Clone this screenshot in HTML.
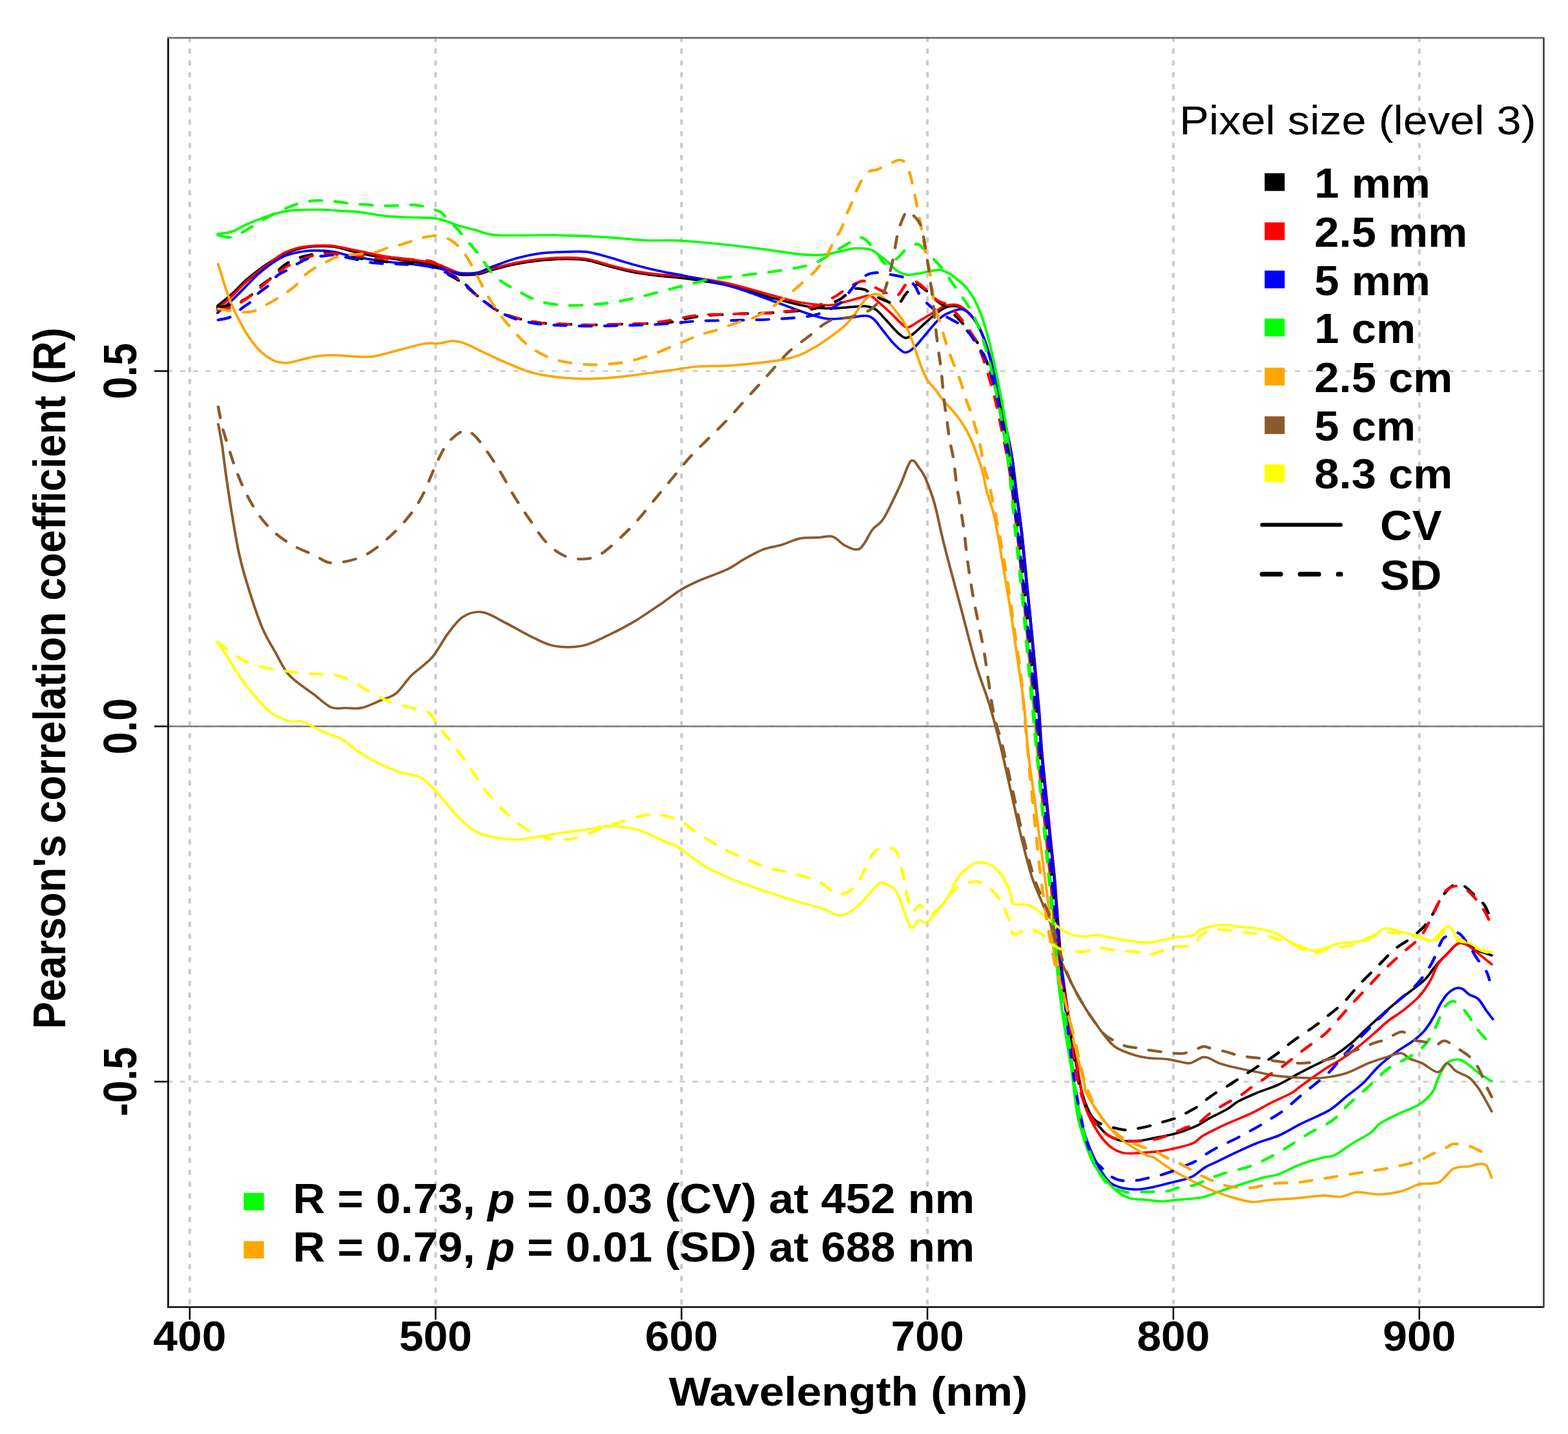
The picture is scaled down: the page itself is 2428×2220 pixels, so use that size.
<!DOCTYPE html><html><head><meta charset="utf-8"><title>Pearson correlation vs wavelength</title>
<style>html,body{margin:0;padding:0;background:#fff;overflow:hidden;}svg{display:block;}text{font-family:"Liberation Sans",Arial,Helvetica,sans-serif;}</style></head><body>
<svg width="2428" height="2220" viewBox="0 0 2428 2220">
<rect x="0" y="0" width="2428" height="2220" fill="#fff"/>
<g stroke="#cbcbcb" stroke-width="4.2" stroke-dasharray="4.6 13.67" stroke-linecap="round" fill="none"><line x1="293.8" y1="58.6" x2="293.8" y2="2023.6"/><line x1="674.5" y1="58.6" x2="674.5" y2="2023.6"/><line x1="1055.3" y1="58.6" x2="1055.3" y2="2023.6"/><line x1="1436.1" y1="58.6" x2="1436.1" y2="2023.6"/><line x1="1816.9" y1="58.6" x2="1816.9" y2="2023.6"/><line x1="2197.8" y1="58.6" x2="2197.8" y2="2023.6"/></g>
<g stroke="#d0d0d0" stroke-width="3.2" stroke-dasharray="5.4 14.44" stroke-linecap="round" fill="none"><line x1="260.4" y1="574.5" x2="2390.0" y2="574.5"/><line x1="260.4" y1="1124.5" x2="2390.0" y2="1124.5"/><line x1="260.4" y1="1674.5" x2="2390.0" y2="1674.5"/></g>
<line x1="260.4" y1="1124.5" x2="2390.0" y2="1124.5" stroke="#7a7a7a" stroke-width="2.4"/>
<g transform="scale(1.085,1)">
<g fill="none" stroke-width="3.7" stroke-linecap="round" stroke-linejoin="round"><path d="M310.5 473.5 C314.0 470.4 325.0 461.1 331.5 454.6 C338.1 448.2 343.7 440.8 349.8 434.8 C355.9 428.9 362.0 423.9 368.1 418.9 C374.2 413.9 380.3 409.1 386.4 405.0 C392.4 400.9 398.5 397.2 404.6 394.1 C410.7 391.0 416.9 388.2 422.9 386.2 C429.0 384.2 435.1 383.0 441.2 382.2 C447.3 381.4 453.4 381.2 459.5 381.2 C465.6 381.2 471.7 381.2 477.8 382.2 C483.9 383.2 490.0 385.5 496.1 387.1 C502.2 388.8 508.3 390.6 514.4 392.1 C520.5 393.6 526.5 395.0 532.6 396.1 C538.7 397.2 544.9 398.0 551.0 399.0 C557.1 400.0 563.1 401.0 569.2 402.0 C575.3 403.0 581.5 404.0 587.6 405.0 C593.7 406.0 599.3 406.8 605.8 408.0 C612.3 409.2 618.7 409.2 626.7 412.0 C634.8 414.8 645.1 422.5 654.2 424.6 C663.3 426.7 673.9 425.6 681.6 424.6 C689.2 423.6 690.8 421.4 699.9 418.7 C709.0 416.0 724.2 411.3 736.4 408.7 C748.6 406.1 760.8 404.1 773.0 402.8 C785.2 401.5 798.9 400.8 809.6 400.8 C820.3 400.8 827.9 401.2 837.1 402.8 C846.2 404.4 853.8 407.7 864.4 410.7 C875.1 413.7 888.8 418.0 901.0 420.6 C913.2 423.2 924.9 424.9 937.6 426.6 C950.3 428.3 961.3 428.7 977.0 431.0 C992.7 433.3 1016.6 437.1 1031.8 440.3 C1047.0 443.5 1056.2 446.6 1068.4 450.2 C1080.6 453.8 1092.8 458.5 1105.0 462.1 C1117.2 465.8 1132.2 469.8 1141.6 472.1 C1151.0 474.4 1153.3 475.1 1161.3 476.0 C1169.3 476.9 1179.9 477.6 1189.6 477.4 C1199.3 477.2 1211.8 475.4 1219.5 474.9 C1227.3 474.3 1231.0 473.4 1236.0 474.1 C1241.0 474.8 1244.8 475.5 1249.6 479.0 C1254.3 482.5 1259.5 489.6 1264.5 495.3 C1269.5 501.0 1275.0 508.6 1279.5 513.2 C1284.0 517.8 1287.8 522.1 1291.5 522.9 C1295.3 523.7 1297.8 521.4 1302.0 518.1 C1306.3 514.9 1312.0 508.3 1317.1 503.4 C1322.1 498.5 1327.1 493.2 1332.1 488.8 C1337.1 484.4 1342.5 479.5 1347.1 477.0 C1351.7 474.5 1355.0 474.0 1359.4 474.0 C1363.9 474.0 1368.6 473.4 1373.9 477.0 C1379.2 480.6 1386.0 487.6 1391.1 495.5 C1396.1 503.4 1400.2 512.6 1404.3 524.3 C1408.4 536.0 1412.0 550.1 1415.8 565.6 C1419.6 581.1 1423.7 599.9 1427.2 617.1 C1430.7 634.3 1433.8 653.2 1436.7 668.7 C1439.5 684.2 1442.0 694.7 1444.2 709.9 C1446.5 725.1 1447.7 741.2 1450.0 760.0 C1452.2 778.8 1455.0 798.3 1457.5 822.5 C1460.0 846.7 1462.6 877.5 1465.2 905.0 C1467.7 932.5 1470.4 959.9 1472.7 987.4 C1475.1 1014.9 1477.6 1049.5 1479.3 1069.9 C1481.0 1090.3 1481.8 1094.7 1482.9 1110.0 C1484.1 1125.3 1484.3 1139.5 1486.1 1161.9 C1487.9 1184.3 1491.4 1220.2 1493.6 1244.3 C1495.9 1268.3 1497.5 1285.6 1499.4 1306.2 C1501.3 1326.8 1502.9 1339.0 1505.1 1368.0 C1507.3 1397.0 1510.7 1454.8 1512.6 1480.0 C1514.6 1505.2 1514.6 1502.2 1516.7 1518.9 C1518.8 1535.6 1522.6 1561.5 1525.3 1580.0 C1528.1 1598.5 1530.1 1611.7 1533.2 1630.0 C1536.3 1648.3 1540.5 1675.3 1543.8 1690.0 C1547.1 1704.7 1549.8 1710.3 1553.0 1718.0 C1556.2 1725.7 1558.9 1729.8 1563.0 1735.9 C1567.2 1742.0 1572.5 1749.8 1577.9 1754.5 C1583.2 1759.2 1589.3 1762.3 1595.0 1764.4 C1600.7 1766.5 1606.5 1766.7 1612.2 1766.9 C1617.9 1767.1 1623.6 1766.4 1629.3 1765.6 C1635.0 1764.8 1639.8 1763.3 1646.5 1761.9 C1653.1 1760.5 1662.6 1758.7 1669.3 1757.0 C1676.0 1755.3 1679.8 1754.5 1686.5 1752.0 C1693.1 1749.5 1702.6 1745.6 1709.3 1742.1 C1716.0 1738.6 1719.5 1735.0 1726.5 1730.9 C1733.4 1726.8 1744.3 1721.6 1751.2 1717.3 C1758.0 1713.0 1760.0 1709.3 1767.3 1705.0 C1774.5 1700.7 1785.1 1695.8 1794.7 1691.5 C1804.3 1687.2 1814.5 1684.3 1824.9 1679.0 C1835.3 1673.7 1846.2 1666.0 1856.9 1659.9 C1867.5 1653.8 1880.8 1646.8 1888.8 1642.5 C1896.9 1638.2 1898.2 1638.4 1904.9 1633.8 C1911.6 1629.2 1920.8 1622.0 1928.8 1614.7 C1936.9 1607.4 1943.6 1599.3 1952.9 1590.0 C1962.2 1580.7 1975.5 1567.5 1984.9 1558.8 C1994.2 1550.1 2000.9 1544.9 2008.9 1537.9 C2016.9 1531.0 2026.8 1523.5 2032.9 1517.1 C2039.0 1510.7 2042.2 1504.3 2045.7 1499.7 C2049.2 1495.1 2050.5 1493.0 2053.7 1489.3 C2056.9 1485.5 2060.9 1481.6 2064.9 1477.2 C2068.9 1472.8 2073.9 1466.0 2077.7 1463.0 C2081.5 1460.0 2084.4 1459.0 2087.6 1459.0 C2090.8 1459.0 2093.2 1461.1 2096.9 1463.3 C2100.6 1465.5 2104.3 1469.3 2109.7 1471.9 C2115.0 1474.5 2125.7 1477.7 2128.9 1478.9" stroke="#000000"/><path d="M310.5 478.4 C314.0 475.0 325.0 464.7 331.5 458.0 C338.1 451.3 343.7 444.2 349.8 438.0 C355.9 431.8 362.0 426.3 368.1 421.0 C374.2 415.7 380.3 410.8 386.4 406.0 C392.4 401.2 398.5 395.7 404.6 392.1 C410.7 388.5 416.9 386.3 422.9 384.5 C429.0 382.7 435.1 381.9 441.2 381.2 C447.3 380.5 453.4 380.2 459.5 380.2 C465.6 380.2 468.6 379.7 477.8 381.2 C486.9 382.7 502.2 386.5 514.4 389.1 C526.6 391.8 538.8 395.0 551.0 397.1 C563.2 399.2 575.4 400.0 587.6 402.0 C599.7 404.0 612.9 405.7 624.1 409.0 C635.2 412.3 644.6 419.7 654.2 422.0 C663.8 424.3 673.9 423.5 681.6 422.6 C689.2 421.7 690.8 419.4 699.9 416.7 C709.0 414.0 724.2 409.3 736.4 406.7 C748.6 404.1 760.8 402.1 773.0 400.8 C785.2 399.5 798.9 398.8 809.6 398.8 C820.3 398.8 827.9 399.2 837.1 400.8 C846.2 402.4 853.8 405.7 864.4 408.7 C875.1 411.7 888.8 416.0 901.0 418.6 C913.2 421.2 924.9 423.0 937.6 424.6 C950.3 426.2 961.3 425.9 977.0 428.0 C992.7 430.1 1016.6 433.8 1031.8 437.0 C1047.0 440.2 1056.2 443.5 1068.4 447.0 C1080.6 450.5 1092.8 454.5 1105.0 458.0 C1117.2 461.5 1128.7 465.6 1141.6 468.0 C1154.4 470.4 1171.5 472.6 1182.0 472.5 C1192.5 472.4 1197.1 469.5 1204.6 467.6 C1212.1 465.7 1220.9 462.7 1227.1 461.1 C1233.3 459.5 1237.0 456.3 1242.0 457.9 C1247.0 459.5 1252.0 466.3 1257.1 470.9 C1262.1 475.5 1267.1 480.4 1272.1 485.5 C1277.1 490.6 1283.1 498.3 1287.1 501.8 C1291.1 505.3 1292.3 507.2 1296.0 506.7 C1299.8 506.1 1304.8 501.5 1309.6 498.5 C1314.3 495.5 1319.5 492.1 1324.5 488.8 C1329.5 485.6 1335.1 481.7 1339.5 479.0 C1344.0 476.3 1346.1 473.7 1351.2 472.8 C1356.3 471.9 1363.5 470.0 1370.1 473.8 C1376.8 477.6 1385.3 487.1 1391.1 495.5 C1396.8 503.9 1400.4 512.6 1404.6 524.3 C1408.8 536.0 1412.4 550.1 1416.2 565.6 C1420.1 581.1 1424.2 599.9 1427.6 617.1 C1431.1 634.3 1434.3 653.2 1437.1 668.7 C1440.0 684.2 1442.5 694.7 1444.7 709.9 C1446.9 725.1 1448.3 741.2 1450.5 760.0 C1452.7 778.8 1455.5 798.3 1458.1 822.5 C1460.6 846.7 1463.2 877.5 1465.7 905.0 C1468.2 932.5 1470.8 959.9 1473.3 987.4 C1475.8 1014.9 1478.9 1049.5 1480.6 1069.9 C1482.4 1090.3 1482.8 1094.7 1483.9 1110.0 C1484.9 1125.3 1485.2 1139.5 1487.0 1161.9 C1488.8 1184.3 1492.4 1220.2 1494.6 1244.3 C1496.8 1268.3 1498.4 1285.6 1500.3 1306.2 C1502.2 1326.8 1503.7 1339.0 1506.0 1368.0 C1508.2 1397.0 1511.8 1454.8 1513.8 1480.0 C1515.8 1505.2 1515.9 1502.2 1518.0 1518.9 C1520.0 1535.6 1523.5 1561.5 1526.3 1580.0 C1529.0 1598.5 1532.0 1613.3 1534.6 1630.0 C1537.2 1646.7 1539.5 1665.9 1541.9 1680.0 C1544.4 1694.1 1545.2 1702.8 1549.3 1714.8 C1553.4 1726.8 1560.7 1742.1 1566.5 1752.0 C1572.2 1761.9 1577.9 1768.9 1583.6 1774.3 C1589.3 1779.7 1595.0 1782.3 1600.7 1784.2 C1606.5 1786.1 1612.2 1785.5 1617.9 1785.5 C1623.6 1785.5 1628.4 1784.8 1635.0 1784.2 C1641.7 1783.6 1650.3 1783.0 1657.9 1781.8 C1665.5 1780.6 1673.1 1778.9 1680.7 1776.8 C1688.4 1774.7 1697.9 1772.3 1703.6 1769.4 C1709.3 1766.5 1710.3 1762.7 1715.0 1759.4 C1719.8 1756.1 1726.1 1752.8 1732.2 1749.5 C1738.2 1746.2 1742.3 1743.9 1751.2 1739.6 C1760.0 1735.3 1775.2 1729.0 1785.5 1723.7 C1795.8 1718.4 1803.4 1713.1 1813.0 1707.8 C1822.6 1702.5 1836.0 1696.5 1843.3 1692.0 C1850.6 1687.5 1849.3 1686.9 1856.9 1681.0 C1864.5 1675.1 1879.5 1663.1 1888.8 1656.4 C1898.2 1649.7 1904.9 1646.5 1912.9 1640.8 C1920.9 1635.1 1928.9 1628.8 1936.9 1622.0 C1944.9 1615.2 1953.5 1607.0 1960.9 1600.0 C1968.4 1593.0 1974.9 1585.7 1981.6 1580.0 C1988.2 1574.3 1993.7 1571.9 2000.9 1565.7 C2008.1 1559.5 2018.2 1550.9 2024.9 1543.1 C2031.6 1535.3 2036.4 1527.2 2040.9 1518.8 C2045.5 1510.4 2048.1 1499.7 2052.1 1492.8 C2056.1 1485.9 2060.4 1482.4 2064.9 1477.2 C2069.4 1472.0 2075.3 1464.2 2079.3 1461.5 C2083.2 1458.8 2085.5 1460.4 2088.5 1461.0 C2091.4 1461.6 2092.8 1462.0 2096.9 1465.0 C2100.9 1468.0 2107.6 1474.3 2112.9 1478.9 C2118.2 1483.5 2126.3 1490.5 2128.9 1492.8" stroke="#FF0000"/><path d="M310.5 484.4 C314.0 481.1 325.0 471.1 331.5 464.5 C338.1 457.9 343.7 451.3 349.8 444.7 C355.9 438.1 362.0 430.8 368.1 424.8 C374.2 418.9 380.3 413.6 386.4 409.0 C392.4 404.4 398.5 400.1 404.6 397.1 C410.7 394.1 416.9 392.6 422.9 391.1 C429.0 389.6 435.1 388.6 441.2 388.1 C447.3 387.6 453.4 387.8 459.5 388.1 C465.6 388.4 471.7 388.9 477.8 390.1 C483.9 391.3 490.0 393.6 496.1 395.1 C502.2 396.6 505.2 397.4 514.4 399.0 C523.5 400.6 538.8 403.3 551.0 405.0 C563.2 406.7 575.4 407.4 587.6 409.0 C599.7 410.6 612.9 412.6 624.1 414.9 C635.2 417.2 644.6 421.8 654.2 423.0 C663.8 424.2 673.9 423.5 681.6 422.0 C689.2 420.5 690.8 417.7 699.9 414.0 C709.0 410.3 724.2 403.7 736.4 400.0 C748.6 396.3 760.8 393.6 773.0 391.9 C785.2 390.2 798.9 390.2 809.6 389.9 C820.3 389.6 827.9 388.8 837.1 389.9 C846.2 391.0 853.8 393.7 864.4 396.8 C875.1 399.9 888.8 405.1 901.0 408.7 C913.2 412.3 924.9 415.6 937.6 418.7 C950.3 421.8 961.3 423.4 977.0 427.0 C992.7 430.6 1016.6 435.8 1031.8 440.0 C1047.0 444.2 1053.1 446.5 1068.4 452.2 C1083.6 457.9 1108.0 468.1 1123.2 474.0 C1138.5 479.9 1150.0 484.6 1159.8 487.9 C1169.6 491.2 1173.3 493.0 1182.0 493.7 C1190.7 494.4 1203.3 492.8 1212.1 492.0 C1220.8 491.2 1228.8 488.5 1234.6 488.8 C1240.3 489.1 1242.3 489.9 1246.5 493.7 C1250.8 497.5 1255.8 505.9 1260.1 511.6 C1264.3 517.3 1268.1 522.9 1272.1 527.8 C1276.1 532.7 1280.6 537.8 1284.1 540.8 C1287.6 543.8 1289.6 546.2 1293.1 545.7 C1296.6 545.2 1301.1 541.4 1305.1 537.6 C1309.1 533.8 1312.5 528.6 1317.1 522.9 C1321.6 517.2 1327.6 508.8 1332.1 503.4 C1336.6 498.0 1340.3 493.6 1344.1 490.4 C1347.8 487.2 1349.9 485.9 1354.8 484.0 C1359.8 482.1 1367.9 477.1 1373.9 479.0 C1380.0 480.9 1386.0 487.9 1391.1 495.5 C1396.1 503.1 1400.2 512.6 1404.3 524.3 C1408.5 536.0 1412.2 550.1 1416.1 565.6 C1420.0 581.1 1424.1 599.9 1427.6 617.1 C1431.2 634.3 1434.5 653.2 1437.3 668.7 C1440.2 684.2 1442.5 694.7 1444.7 709.9 C1446.9 725.1 1448.2 741.2 1450.4 760.0 C1452.6 778.8 1455.5 798.3 1458.1 822.5 C1460.6 846.7 1463.2 877.5 1465.7 905.0 C1468.2 932.5 1470.9 959.9 1473.3 987.4 C1475.7 1014.9 1478.5 1049.5 1480.2 1069.9 C1481.9 1090.3 1482.4 1094.7 1483.4 1110.0 C1484.5 1125.3 1484.8 1139.5 1486.5 1161.9 C1488.3 1184.3 1491.8 1220.2 1494.0 1244.3 C1496.2 1268.3 1497.8 1285.6 1499.7 1306.2 C1501.6 1326.8 1503.3 1339.0 1505.5 1368.0 C1507.7 1397.0 1511.0 1454.8 1512.9 1480.0 C1514.8 1505.2 1515.1 1500.6 1517.1 1518.9 C1519.0 1537.2 1521.9 1564.8 1524.4 1590.0 C1526.9 1615.2 1529.7 1649.2 1532.2 1670.0 C1534.6 1690.8 1537.3 1703.4 1539.2 1715.0 C1541.1 1726.6 1541.0 1729.3 1543.6 1739.6 C1546.2 1749.9 1550.8 1765.4 1555.0 1776.8 C1559.2 1788.2 1564.0 1798.9 1568.8 1807.8 C1573.5 1816.7 1578.3 1824.9 1583.6 1830.1 C1588.9 1835.3 1594.1 1836.9 1600.7 1838.8 C1607.4 1840.7 1616.0 1841.5 1623.6 1841.3 C1631.2 1841.1 1638.8 1839.2 1646.5 1837.6 C1654.1 1835.9 1661.7 1833.5 1669.3 1831.4 C1676.9 1829.3 1686.5 1827.1 1692.2 1825.2 C1697.9 1823.3 1698.8 1823.3 1703.6 1820.2 C1708.4 1817.1 1715.0 1810.3 1720.7 1806.6 C1726.5 1802.9 1731.7 1801.2 1737.9 1797.9 C1744.1 1794.7 1748.6 1791.9 1758.1 1787.1 C1767.5 1782.3 1783.5 1774.1 1794.7 1769.3 C1805.8 1764.5 1814.5 1762.9 1824.9 1758.0 C1835.3 1753.1 1844.9 1746.2 1856.9 1739.7 C1868.9 1733.2 1886.2 1725.8 1896.9 1718.9 C1907.5 1712.0 1912.9 1705.0 1920.9 1698.1 C1928.9 1691.1 1936.9 1685.3 1944.9 1677.2 C1952.9 1669.1 1960.9 1657.5 1968.9 1649.4 C1976.9 1641.3 1984.9 1634.9 1992.9 1628.6 C2000.9 1622.2 2010.2 1616.8 2016.9 1611.3 C2023.5 1605.8 2028.1 1601.6 2032.9 1595.6 C2037.7 1589.5 2042.0 1581.8 2045.7 1575.0 C2049.4 1568.2 2052.1 1560.9 2055.3 1555.0 C2058.5 1549.1 2061.2 1543.9 2064.9 1539.7 C2068.6 1535.5 2074.0 1531.5 2077.7 1530.1 C2081.4 1528.6 2084.1 1529.4 2087.3 1531.0 C2090.5 1532.6 2093.1 1537.1 2096.9 1539.7 C2100.6 1542.3 2105.7 1542.5 2109.7 1546.6 C2113.7 1550.6 2117.5 1558.8 2120.9 1564.0 C2124.4 1569.2 2128.9 1575.5 2130.5 1577.8" stroke="#0000FF"/><path d="M310.5 362.3 C314.0 361.6 325.0 360.7 331.5 358.4 C338.1 356.1 342.2 352.1 349.8 348.5 C357.4 344.9 368.1 340.0 377.2 336.5 C386.4 333.0 397.0 329.5 404.6 327.6 C412.2 325.7 413.8 325.7 422.9 325.2 C432.1 324.7 448.9 324.4 459.5 324.6 C470.2 324.8 477.8 325.9 486.9 326.6 C496.1 327.3 503.7 327.3 514.4 328.6 C525.1 329.9 538.8 333.3 551.0 334.6 C563.2 335.9 575.4 335.9 587.6 336.5 C599.7 337.1 612.9 336.4 624.1 338.5 C635.2 340.6 644.6 346.1 654.2 349.2 C663.8 352.3 672.4 354.6 681.6 357.1 C690.7 359.6 690.7 362.9 709.0 364.1 C727.3 365.3 765.4 363.6 791.3 364.1 C817.2 364.6 843.1 365.8 864.4 367.1 C885.8 368.4 900.6 371.0 919.4 372.0 C938.1 373.0 952.1 371.2 977.0 373.0 C1001.8 374.8 1041.0 379.4 1068.4 382.8 C1095.8 386.2 1123.9 391.8 1141.6 393.7 C1159.3 395.6 1165.3 395.1 1174.6 394.4 C1183.8 393.7 1189.6 391.1 1197.1 389.5 C1204.5 387.9 1212.0 385.2 1219.5 384.6 C1227.0 384.1 1236.3 384.6 1242.0 386.2 C1247.8 387.8 1249.6 390.9 1254.1 394.4 C1258.6 397.9 1264.8 403.3 1269.0 407.4 C1273.3 411.5 1275.3 415.8 1279.5 418.8 C1283.8 421.8 1289.6 424.5 1294.6 425.3 C1299.6 426.1 1304.6 424.5 1309.6 423.7 C1314.6 422.9 1319.5 421.4 1324.5 420.4 C1329.5 419.4 1335.3 417.7 1339.5 417.8 C1343.8 417.9 1346.4 419.1 1350.2 421.0 C1354.1 422.9 1357.7 425.3 1362.6 429.5 C1367.5 433.7 1374.3 438.8 1379.6 446.0 C1385.0 453.2 1390.1 461.5 1394.8 472.8 C1399.6 484.1 1404.0 498.5 1408.1 514.0 C1412.2 529.5 1416.1 548.4 1419.5 565.6 C1423.0 582.8 1425.9 598.2 1429.0 617.1 C1432.2 636.0 1436.0 658.5 1438.5 679.0 C1441.1 699.5 1442.1 716.2 1444.2 740.0 C1446.4 763.8 1449.2 794.5 1451.6 822.0 C1454.1 849.5 1456.5 877.0 1459.0 905.0 C1461.4 933.0 1464.1 962.5 1466.4 990.0 C1468.7 1017.5 1471.0 1048.3 1472.8 1070.0 C1474.7 1091.7 1476.2 1104.7 1477.4 1120.0 C1478.7 1135.3 1478.6 1141.2 1480.4 1161.9 C1482.1 1182.6 1485.4 1216.8 1487.9 1244.3 C1490.5 1271.8 1493.3 1302.7 1495.6 1326.8 C1497.8 1350.9 1499.4 1363.2 1501.3 1388.7 C1503.2 1414.2 1505.2 1456.5 1506.9 1480.0 C1508.6 1503.5 1509.3 1510.3 1511.5 1530.0 C1513.8 1549.7 1517.4 1577.0 1520.4 1598.3 C1523.4 1619.6 1526.6 1636.3 1529.5 1657.8 C1532.4 1679.3 1534.6 1708.4 1537.9 1727.2 C1541.2 1746.0 1545.5 1758.2 1549.3 1770.6 C1553.1 1783.0 1556.0 1792.3 1560.7 1801.6 C1565.5 1810.9 1572.2 1819.2 1577.9 1826.4 C1583.6 1833.6 1589.3 1840.2 1595.0 1845.0 C1600.7 1849.8 1605.5 1852.8 1612.2 1854.9 C1618.8 1857.0 1627.4 1856.6 1635.0 1857.4 C1642.6 1858.2 1650.3 1859.9 1657.9 1859.9 C1665.5 1859.9 1671.2 1858.4 1680.7 1857.4 C1690.3 1856.4 1705.2 1855.8 1715.0 1853.7 C1724.9 1851.6 1731.1 1847.9 1739.8 1844.7 C1748.5 1841.5 1756.6 1838.4 1767.3 1834.8 C1777.9 1831.2 1794.2 1825.7 1803.8 1822.9 C1813.4 1820.1 1816.0 1821.2 1824.9 1817.8 C1833.7 1814.3 1846.2 1806.5 1856.9 1802.2 C1867.5 1797.9 1880.8 1794.1 1888.8 1791.8 C1896.9 1789.5 1898.2 1791.8 1904.9 1788.3 C1911.6 1784.8 1920.3 1776.8 1928.8 1771.0 C1937.4 1765.2 1949.4 1758.8 1956.1 1753.6 C1962.8 1748.4 1962.8 1744.3 1968.9 1739.7 C1975.1 1735.1 1983.6 1730.7 1992.9 1725.8 C2002.2 1720.9 2016.4 1716.0 2024.9 1710.2 C2033.4 1704.4 2039.5 1697.8 2044.1 1691.1 C2048.6 1684.4 2049.4 1676.7 2052.1 1670.3 C2054.7 1663.9 2057.2 1657.5 2060.1 1652.9 C2063.0 1648.3 2065.7 1644.5 2069.7 1642.5 C2073.7 1640.5 2079.6 1639.6 2084.1 1640.8 C2088.7 1642.0 2092.1 1645.7 2096.9 1649.4 C2101.7 1653.2 2107.6 1659.2 2112.9 1663.3 C2118.2 1667.4 2126.3 1672.0 2128.9 1673.8" stroke="#00FF00"/><path d="M311.4 409.0 C312.6 413.3 316.3 426.5 318.7 434.8 C321.1 443.1 323.5 451.3 326.0 458.6 C328.4 465.9 330.6 471.8 333.4 478.4 C336.1 485.0 338.8 491.0 342.5 498.3 C346.1 505.6 350.4 514.5 355.3 522.1 C360.2 529.7 365.9 538.0 371.7 543.9 C377.5 549.8 383.9 554.8 390.0 557.8 C396.1 560.8 402.2 561.8 408.3 561.8 C414.4 561.8 419.6 559.5 426.6 557.8 C433.7 556.1 441.9 553.1 450.4 551.8 C458.9 550.5 468.6 549.8 477.8 549.8 C486.9 549.8 496.1 551.5 505.3 551.8 C514.4 552.1 522.0 553.4 532.6 551.8 C543.3 550.1 557.0 545.2 569.2 541.9 C581.4 538.6 596.2 533.7 605.8 532.0 C615.4 530.3 620.2 532.4 626.7 531.7 C633.3 531.0 638.9 527.8 645.0 527.8 C651.1 527.8 655.7 528.7 663.3 531.7 C670.9 534.7 681.6 541.0 690.7 545.6 C699.8 550.2 707.5 554.5 718.2 559.5 C728.8 564.5 742.5 571.4 754.7 575.4 C766.9 579.4 779.1 581.5 791.3 583.3 C803.5 585.1 815.7 586.0 827.9 586.3 C840.1 586.6 852.2 586.1 864.4 585.3 C876.6 584.5 885.8 583.3 901.0 581.3 C916.3 579.3 940.1 575.7 955.9 573.4 C971.6 571.1 979.7 568.9 995.4 567.5 C1011.1 566.1 1028.8 567.3 1050.1 565.3 C1071.4 563.3 1104.9 559.7 1123.2 555.4 C1141.5 551.1 1149.1 545.5 1159.8 539.5 C1170.5 533.5 1179.8 525.5 1187.3 519.7 C1194.7 514.0 1199.2 510.4 1204.6 505.0 C1210.0 499.6 1214.8 493.6 1219.5 487.1 C1224.3 480.6 1228.8 471.1 1233.1 466.0 C1237.3 460.9 1241.6 457.8 1245.1 456.2 C1248.6 454.6 1250.6 454.6 1254.1 456.2 C1257.6 457.8 1262.3 462.2 1266.1 466.0 C1269.8 469.8 1273.1 474.4 1276.6 479.0 C1280.1 483.6 1283.9 488.3 1287.1 493.7 C1290.3 499.1 1293.5 505.9 1296.0 511.6 C1298.5 517.3 1299.8 521.0 1302.0 527.8 C1304.3 534.6 1307.1 544.5 1309.6 552.2 C1312.1 559.9 1314.6 567.7 1317.1 574.0 C1319.5 580.3 1321.7 585.3 1324.5 590.0 C1327.3 594.7 1330.2 596.8 1334.0 602.0 C1337.8 607.2 1342.6 614.9 1347.4 621.2 C1352.1 627.5 1358.2 633.9 1362.6 639.8 C1367.0 645.6 1370.1 649.8 1373.9 656.3 C1377.7 662.8 1381.9 670.8 1385.3 679.0 C1388.8 687.2 1392.0 697.2 1394.8 705.8 C1397.7 714.4 1400.2 721.5 1402.4 730.5 C1404.6 739.5 1405.3 748.1 1408.1 760.0 C1411.0 771.9 1415.4 781.2 1419.5 801.9 C1423.7 822.6 1429.0 860.2 1432.8 884.3 C1436.6 908.3 1439.2 923.9 1442.4 946.2 C1445.6 968.6 1448.7 994.4 1451.9 1018.4 C1455.1 1042.5 1458.8 1066.6 1461.4 1090.5 C1463.9 1114.4 1464.9 1139.7 1467.1 1161.9 C1469.3 1184.1 1472.1 1203.1 1474.7 1223.7 C1477.2 1244.3 1479.7 1265.0 1482.2 1285.6 C1484.7 1306.2 1487.3 1326.8 1489.9 1347.4 C1492.4 1368.0 1494.9 1387.2 1497.4 1409.3 C1500.0 1431.4 1501.6 1458.4 1505.1 1480.0 C1508.5 1501.6 1513.2 1515.7 1518.0 1538.7 C1522.7 1561.7 1528.7 1594.9 1533.6 1618.1 C1538.6 1641.2 1544.9 1665.6 1547.5 1677.6 C1550.1 1689.6 1546.1 1682.8 1549.3 1690.0 C1552.5 1697.2 1560.7 1711.7 1566.5 1721.0 C1572.2 1730.3 1577.9 1738.6 1583.6 1745.8 C1589.3 1753.0 1595.0 1759.2 1600.7 1764.4 C1606.5 1769.6 1612.2 1772.9 1617.9 1776.8 C1623.6 1780.7 1630.3 1785.5 1635.0 1788.0 C1639.8 1790.5 1642.6 1789.6 1646.5 1791.7 C1650.3 1793.8 1653.1 1796.9 1657.9 1800.4 C1662.6 1803.9 1669.3 1809.1 1675.0 1812.8 C1680.7 1816.5 1686.5 1819.4 1692.2 1822.7 C1697.9 1826.0 1703.6 1829.5 1709.3 1832.6 C1715.0 1835.7 1719.5 1838.2 1726.5 1841.3 C1733.4 1844.4 1741.3 1848.0 1751.2 1851.2 C1761.0 1854.4 1775.2 1859.5 1785.5 1860.6 C1795.8 1861.7 1803.4 1858.4 1813.0 1857.6 C1822.6 1856.8 1836.0 1856.1 1843.3 1855.6 C1850.6 1855.0 1849.3 1855.1 1856.9 1854.3 C1864.5 1853.5 1879.2 1851.1 1888.8 1850.8 C1898.4 1850.5 1906.5 1853.5 1914.5 1852.6 C1922.5 1851.7 1927.8 1846.2 1936.9 1845.6 C1945.9 1845.0 1958.3 1849.4 1968.9 1849.1 C1979.6 1848.8 1991.6 1846.5 2000.9 1843.9 C2010.2 1841.3 2016.1 1835.8 2024.9 1833.5 C2033.7 1831.2 2045.5 1834.0 2053.7 1830.0 C2062.0 1826.0 2067.3 1813.2 2074.5 1809.2 C2081.7 1805.2 2091.0 1806.9 2096.9 1805.7 C2102.7 1804.5 2105.7 1802.5 2109.7 1802.2 C2113.7 1801.9 2117.7 1800.5 2120.9 1804.0 C2124.1 1807.5 2127.6 1819.9 2128.9 1823.1" stroke="#FFA500"/><path d="M311.4 656.7 C312.4 662.2 315.1 676.6 317.0 689.5 C318.8 702.4 320.1 716.8 322.4 734.2 C324.7 751.6 327.5 773.0 330.7 793.9 C333.9 814.8 337.5 839.6 341.7 859.5 C345.8 879.4 349.9 894.3 355.4 913.2 C360.9 932.1 368.2 956.5 374.7 972.9 C381.1 989.3 388.3 1000.6 393.9 1011.7 C399.5 1022.8 403.5 1032.2 408.3 1039.4 C413.1 1046.7 416.3 1049.3 422.9 1055.2 C429.6 1061.1 439.7 1068.4 447.9 1075.0 C456.2 1081.6 464.7 1091.4 472.4 1094.9 C480.0 1098.4 486.7 1095.8 494.0 1096.0 C501.3 1096.2 507.9 1097.9 516.2 1095.9 C524.5 1093.9 535.5 1087.8 543.8 1084.0 C552.0 1080.2 558.3 1079.5 565.6 1073.1 C572.9 1066.6 579.0 1054.5 587.6 1045.3 C596.1 1036.1 608.2 1028.3 616.7 1017.7 C625.2 1007.1 631.3 992.4 638.6 981.9 C645.9 971.4 652.4 960.7 660.6 955.0 C668.9 949.3 678.0 946.1 688.1 947.6 C698.2 949.1 709.6 957.8 721.1 964.0 C732.6 970.2 745.4 978.8 756.9 984.8 C768.3 990.8 777.5 997.3 789.9 999.8 C802.2 1002.3 818.0 1002.6 831.1 999.8 C844.2 997.0 855.7 989.6 868.5 983.1 C881.2 976.6 894.5 969.1 907.5 960.6 C920.5 952.1 935.6 940.4 946.5 932.4 C957.3 924.4 963.8 918.2 972.4 912.6 C981.1 907.0 987.7 903.7 998.5 898.5 C1009.4 893.3 1026.7 887.2 1037.5 881.6 C1048.3 876.0 1054.8 869.9 1063.5 864.7 C1072.2 859.5 1080.8 854.0 1089.5 850.5 C1098.2 847.0 1106.8 846.3 1115.5 843.5 C1124.1 840.7 1132.8 835.5 1141.5 833.6 C1150.1 831.7 1159.7 832.7 1167.5 832.2 C1175.3 831.7 1181.8 828.7 1188.3 830.8 C1194.8 832.9 1200.0 841.8 1206.5 844.9 C1212.9 848.0 1220.8 853.3 1227.3 849.1 C1233.8 844.9 1239.8 827.2 1245.4 819.5 C1251.1 811.8 1254.6 813.9 1261.1 802.6 C1267.6 791.3 1278.0 766.6 1284.5 751.8 C1291.0 737.0 1295.3 717.9 1300.1 713.7 C1304.9 709.5 1309.6 721.9 1313.1 726.4 C1316.5 730.9 1317.4 731.6 1320.8 740.5 C1324.3 749.4 1329.4 762.9 1333.8 780.0 C1338.2 797.1 1341.3 817.1 1347.4 843.1 C1353.4 869.1 1362.5 905.0 1370.1 935.9 C1377.7 966.8 1385.9 1002.9 1392.9 1028.7 C1399.9 1054.5 1406.3 1070.0 1412.0 1090.5 C1417.7 1111.0 1422.1 1129.3 1427.2 1151.5 C1432.3 1173.7 1437.3 1199.6 1442.4 1223.7 C1447.5 1247.8 1452.5 1273.6 1457.5 1295.9 C1462.6 1318.2 1467.6 1340.5 1472.7 1357.7 C1477.8 1374.9 1483.5 1387.0 1487.9 1399.0 C1492.4 1411.0 1495.5 1416.5 1499.4 1429.9 C1503.2 1443.3 1506.2 1463.7 1511.2 1479.2 C1516.3 1494.7 1523.4 1509.7 1529.5 1522.9 C1535.6 1536.1 1542.4 1548.7 1547.8 1558.6 C1553.3 1568.5 1557.5 1574.8 1562.4 1582.4 C1567.3 1590.0 1571.9 1597.6 1577.1 1604.2 C1582.2 1610.8 1586.2 1617.1 1593.5 1622.1 C1600.9 1627.1 1613.3 1631.4 1620.9 1634.0 C1628.5 1636.6 1631.6 1636.9 1639.3 1637.9 C1646.9 1638.9 1657.5 1638.6 1666.6 1639.9 C1675.8 1641.2 1688.0 1645.2 1694.1 1645.9 C1700.2 1646.6 1699.6 1645.4 1703.2 1643.9 C1706.9 1642.4 1712.4 1637.9 1716.0 1636.9 C1719.7 1635.9 1721.2 1636.4 1725.2 1637.9 C1729.1 1639.4 1732.8 1643.2 1739.8 1645.9 C1746.8 1648.6 1758.1 1651.5 1767.3 1653.8 C1776.4 1656.1 1785.5 1657.8 1794.7 1659.8 C1803.8 1661.8 1811.8 1664.2 1822.1 1665.7 C1832.5 1667.2 1845.7 1668.0 1856.9 1668.5 C1868.0 1669.0 1878.2 1669.7 1888.8 1668.5 C1899.5 1667.3 1910.2 1665.3 1920.9 1661.6 C1931.6 1657.8 1943.6 1650.0 1952.9 1646.0 C1962.2 1642.0 1969.1 1639.9 1976.9 1637.3 C1984.6 1634.7 1993.4 1630.0 1999.3 1630.3 C2005.1 1630.6 2007.0 1636.4 2012.1 1639.0 C2017.1 1641.6 2023.0 1642.5 2029.7 1646.0 C2036.3 1649.5 2046.2 1659.9 2052.1 1659.9 C2057.9 1659.9 2060.6 1646.3 2064.9 1646.0 C2069.2 1645.7 2072.4 1654.3 2077.7 1658.1 C2083.0 1661.8 2091.5 1664.2 2096.9 1668.5 C2102.2 1672.8 2105.9 1678.7 2109.7 1684.2 C2113.4 1689.7 2116.1 1695.4 2119.3 1701.5 C2122.5 1707.6 2127.3 1717.4 2128.9 1720.6" stroke="#8B5A2B"/><path d="M311.4 995.7 C313.3 998.6 319.0 1007.4 322.4 1013.0 C325.7 1018.6 327.0 1021.7 331.5 1029.4 C336.1 1037.1 343.7 1050.3 349.8 1059.2 C355.9 1068.1 362.0 1075.7 368.1 1083.0 C374.2 1090.3 378.7 1097.3 386.4 1102.9 C394.0 1108.5 406.2 1114.3 413.8 1116.7 C421.4 1119.1 424.2 1114.8 432.1 1117.5 C439.9 1120.2 451.5 1128.2 460.8 1132.7 C470.2 1137.2 480.1 1139.6 488.3 1144.6 C496.5 1149.6 502.0 1156.5 510.2 1162.5 C518.4 1168.5 527.6 1175.0 537.6 1180.4 C547.6 1185.9 560.4 1191.5 570.5 1195.2 C580.6 1198.9 590.6 1199.2 598.0 1202.7 C605.3 1206.2 608.1 1209.4 614.5 1216.1 C620.9 1222.8 629.1 1234.0 636.4 1242.9 C643.7 1251.8 650.1 1261.7 658.3 1269.6 C666.6 1277.5 673.8 1285.5 685.7 1290.5 C697.6 1295.5 716.9 1298.4 729.7 1299.4 C742.5 1300.4 750.2 1298.1 762.6 1296.4 C774.9 1294.7 790.0 1291.2 803.7 1289.0 C817.4 1286.8 833.5 1284.7 844.9 1283.0 C856.3 1281.3 860.8 1278.1 872.3 1278.6 C883.7 1279.1 899.7 1281.5 913.5 1286.0 C927.2 1290.5 945.5 1301.2 954.6 1305.4 C963.6 1309.7 958.5 1305.2 967.7 1311.5 C976.9 1317.8 996.1 1334.7 1009.8 1343.3 C1023.5 1351.9 1035.7 1356.8 1050.0 1363.1 C1064.4 1369.4 1080.5 1375.4 1095.8 1381.0 C1111.0 1386.6 1128.4 1392.5 1141.5 1396.8 C1154.6 1401.1 1165.2 1403.4 1174.4 1406.7 C1183.5 1410.0 1189.6 1416.0 1196.3 1416.7 C1203.0 1417.4 1208.6 1414.7 1214.7 1410.7 C1220.8 1406.7 1226.8 1399.5 1232.9 1392.9 C1239.0 1386.3 1246.6 1375.3 1251.2 1371.0 C1255.7 1366.7 1255.8 1365.8 1260.4 1367.1 C1264.9 1368.4 1273.7 1372.1 1278.6 1379.0 C1283.5 1385.9 1285.9 1399.1 1289.6 1408.7 C1293.2 1418.3 1296.9 1433.8 1300.6 1436.5 C1304.2 1439.2 1307.9 1425.9 1311.5 1424.6 C1315.2 1423.3 1318.1 1431.1 1322.5 1428.6 C1326.9 1426.0 1332.7 1415.9 1337.8 1409.3 C1342.9 1402.7 1348.2 1397.0 1353.0 1388.7 C1357.8 1380.5 1361.6 1367.4 1366.4 1359.8 C1371.1 1352.2 1376.5 1347.4 1381.6 1343.3 C1386.6 1339.2 1391.4 1335.7 1396.8 1335.0 C1402.2 1334.3 1408.4 1336.1 1413.8 1339.2 C1419.2 1342.3 1424.6 1347.1 1429.0 1353.6 C1433.5 1360.1 1437.6 1370.8 1440.5 1378.4 C1443.3 1386.0 1442.7 1395.4 1446.2 1399.0 C1449.7 1402.6 1457.0 1399.3 1461.4 1400.0 C1465.8 1400.7 1468.0 1400.2 1472.7 1403.1 C1477.5 1406.0 1483.8 1412.3 1489.9 1417.5 C1495.9 1422.7 1502.5 1429.2 1508.8 1434.0 C1515.2 1438.8 1521.5 1443.8 1527.8 1446.4 C1534.2 1449.0 1540.5 1449.3 1546.9 1449.5 C1553.3 1449.7 1559.8 1447.2 1566.1 1447.5 C1572.3 1447.8 1576.7 1449.9 1584.3 1451.4 C1592.0 1452.9 1602.6 1455.1 1611.8 1456.4 C1621.0 1457.7 1631.6 1459.6 1639.3 1459.4 C1646.9 1459.2 1651.4 1456.7 1657.5 1455.4 C1663.6 1454.1 1668.5 1452.6 1675.9 1451.4 C1683.2 1450.2 1695.3 1450.5 1701.4 1448.5 C1707.5 1446.5 1707.5 1442.0 1712.4 1439.5 C1717.2 1437.0 1725.2 1434.9 1730.7 1433.6 C1736.2 1432.3 1739.2 1431.4 1745.3 1431.6 C1751.4 1431.8 1759.1 1433.6 1767.3 1434.6 C1775.5 1435.6 1785.5 1435.7 1794.7 1437.5 C1803.8 1439.3 1814.4 1442.1 1822.1 1445.5 C1829.8 1448.9 1835.1 1454.8 1840.9 1458.1 C1846.7 1461.3 1851.5 1462.7 1856.9 1465.0 C1862.2 1467.3 1867.6 1471.3 1872.9 1471.9 C1878.2 1472.5 1882.2 1470.5 1888.8 1468.5 C1895.5 1466.5 1904.9 1461.5 1912.9 1459.8 C1920.9 1458.1 1928.9 1460.1 1936.9 1458.1 C1944.9 1456.1 1954.3 1451.1 1960.9 1447.6 C1967.6 1444.1 1971.5 1438.3 1976.9 1437.2 C1982.2 1436.1 1986.2 1439.0 1992.9 1440.7 C1999.6 1442.4 2011.0 1445.9 2016.9 1447.6 C2022.7 1449.3 2023.6 1449.6 2028.1 1451.1 C2032.6 1452.5 2039.5 1457.4 2044.1 1456.3 C2048.6 1455.2 2051.6 1448.0 2055.3 1444.2 C2059.0 1440.5 2063.3 1434.1 2066.5 1433.8 C2069.7 1433.5 2072.1 1438.7 2074.5 1442.4 C2076.9 1446.2 2077.2 1453.4 2080.9 1456.3 C2084.7 1459.2 2091.5 1457.5 2096.9 1459.8 C2102.2 1462.1 2107.6 1467.9 2112.9 1470.2 C2118.2 1472.5 2126.3 1473.1 2128.9 1473.7" stroke="#FFFF00"/></g>
<g fill="none" stroke-width="4.2" stroke-linecap="round" stroke-linejoin="round" stroke-dasharray="17.4 18.8"><path d="M310.5 476.4 C313.6 475.7 323.4 473.6 329.0 472.0 C334.7 470.4 339.4 469.1 344.3 466.5 C349.3 463.9 354.3 460.6 358.9 456.6 C363.5 452.6 367.1 447.0 371.7 442.7 C376.3 438.4 381.5 435.4 386.4 430.8 C391.2 426.2 396.4 419.2 401.0 414.9 C405.6 410.6 409.6 407.6 413.8 405.0 C418.1 402.4 422.1 400.6 426.6 399.0 C431.2 397.4 435.7 396.4 441.2 395.1 C446.7 393.8 453.4 391.4 459.5 391.1 C465.6 390.8 471.7 392.1 477.8 393.1 C483.9 394.1 487.0 395.5 496.1 397.1 C505.3 398.8 520.4 401.4 532.6 403.0 C544.8 404.6 557.0 406.0 569.2 407.0 C581.4 408.0 596.7 407.7 605.8 409.0 C614.9 410.3 618.0 411.9 624.1 414.9 C630.2 417.9 637.4 423.6 642.4 426.8 C647.4 430.0 647.7 428.8 654.2 434.0 C660.7 439.2 672.4 450.6 681.6 458.3 C690.7 466.0 699.9 474.6 709.0 480.2 C718.2 485.8 725.7 488.8 736.4 492.1 C747.1 495.4 760.8 498.4 773.0 500.0 C785.2 501.6 797.4 501.5 809.6 502.0 C821.8 502.5 834.0 503.0 846.2 503.0 C858.4 503.0 870.6 502.3 882.8 502.0 C895.0 501.7 907.2 501.5 919.4 501.0 C931.5 500.5 943.2 500.8 955.9 499.0 C968.5 497.2 979.7 492.2 995.4 490.0 C1011.1 487.8 1031.9 487.0 1050.1 486.0 C1068.4 485.0 1086.5 485.3 1105.0 484.0 C1123.5 482.7 1145.9 481.3 1161.3 478.0 C1176.6 474.7 1187.8 469.4 1197.1 464.4 C1206.3 459.4 1210.6 450.8 1216.6 448.1 C1222.6 445.4 1228.3 446.8 1233.1 448.1 C1237.8 449.5 1240.1 453.4 1245.1 456.2 C1250.0 459.0 1256.7 462.6 1262.7 465.0 C1268.7 467.4 1276.0 472.6 1281.1 470.9 C1286.2 469.2 1288.8 459.8 1293.1 454.6 C1297.3 449.5 1301.8 440.8 1306.5 440.0 C1311.3 439.2 1316.6 445.5 1321.6 449.7 C1326.5 453.9 1330.9 459.9 1336.4 465.0 C1342.0 470.1 1348.7 474.2 1354.8 480.0 C1361.0 485.8 1367.1 492.5 1373.3 500.0 C1379.4 507.5 1385.9 515.0 1391.7 525.0 C1397.5 535.0 1402.9 545.0 1408.3 560.0 C1413.7 575.0 1419.7 596.7 1424.0 615.0 C1428.3 633.3 1431.0 652.5 1434.1 670.0 C1437.2 687.5 1439.9 701.7 1442.4 720.0 C1444.9 738.3 1446.5 758.3 1448.8 780.0 C1451.2 801.7 1453.8 825.0 1456.2 850.0 C1458.7 875.0 1461.1 903.3 1463.6 930.0 C1466.1 956.7 1468.7 985.0 1471.0 1010.0 C1473.3 1035.0 1475.6 1060.0 1477.4 1080.0 C1479.3 1100.0 1480.5 1110.0 1482.0 1130.0 C1483.6 1150.0 1484.8 1176.7 1486.6 1200.0 C1488.5 1223.3 1490.9 1246.7 1493.1 1270.0 C1495.2 1293.3 1497.4 1316.7 1499.5 1340.0 C1501.7 1363.3 1503.8 1386.7 1506.0 1410.0 C1508.1 1433.3 1510.4 1460.0 1512.4 1480.0 C1514.4 1500.0 1515.7 1511.7 1518.0 1530.0 C1520.3 1548.3 1523.7 1571.7 1526.3 1590.0 C1528.9 1608.3 1530.7 1622.5 1533.6 1640.0 C1536.6 1657.5 1539.8 1680.3 1543.8 1695.0 C1547.8 1709.7 1553.0 1720.5 1557.6 1728.0 C1562.2 1735.5 1566.1 1737.0 1571.4 1740.0 C1576.7 1743.0 1583.3 1744.2 1589.3 1745.8 C1595.3 1747.4 1601.8 1749.3 1607.6 1749.5 C1613.3 1749.7 1617.5 1748.2 1623.6 1747.0 C1629.7 1745.8 1638.2 1743.8 1644.1 1742.1 C1650.0 1740.4 1653.3 1739.0 1659.0 1737.1 C1664.7 1735.2 1672.9 1733.2 1678.4 1730.9 C1684.0 1728.6 1686.8 1726.6 1692.2 1723.5 C1697.5 1720.4 1705.4 1716.0 1710.5 1712.3 C1715.7 1708.6 1718.5 1704.9 1723.0 1701.2 C1727.6 1697.5 1732.6 1693.6 1737.9 1690.0 C1743.1 1686.4 1749.0 1683.3 1754.5 1679.6 C1760.0 1675.9 1765.7 1671.3 1770.9 1667.7 C1776.1 1664.1 1780.3 1661.4 1785.5 1657.8 C1790.7 1654.2 1796.9 1649.5 1802.0 1645.9 C1807.2 1642.3 1811.7 1639.7 1816.6 1636.0 C1821.5 1632.3 1826.4 1628.1 1831.2 1624.0 C1836.1 1619.9 1838.2 1617.2 1845.7 1611.3 C1853.2 1605.4 1868.9 1594.3 1876.1 1588.7 C1883.3 1583.1 1882.2 1583.7 1888.8 1577.8 C1895.5 1571.9 1907.6 1562.5 1916.1 1553.5 C1924.7 1544.5 1931.8 1533.5 1940.1 1524.0 C1948.4 1514.5 1957.5 1505.3 1965.7 1496.3 C1974.0 1487.3 1982.2 1477.2 1989.7 1470.2 C1997.1 1463.2 2003.6 1460.4 2010.5 1454.6 C2017.5 1448.8 2025.7 1441.9 2031.3 1435.5 C2036.9 1429.1 2039.8 1424.0 2044.1 1416.4 C2048.4 1408.8 2052.3 1397.5 2057.1 1390.0 C2062.0 1382.5 2067.6 1374.4 2072.9 1371.3 C2078.2 1368.2 2082.8 1367.8 2088.9 1371.3 C2095.1 1374.8 2104.6 1386.9 2109.7 1392.1 C2114.7 1397.3 2116.1 1396.7 2119.3 1402.5 C2122.5 1408.3 2127.3 1422.8 2128.9 1426.8" stroke="#000000"/><path d="M310.5 480.0 C313.6 479.3 323.2 478.2 329.0 476.0 C334.9 473.8 339.1 471.6 345.6 467.0 C352.1 462.4 359.8 456.1 368.1 448.7 C376.4 441.3 388.2 429.2 395.5 422.9 C402.8 416.6 405.9 414.6 412.0 411.0 C418.1 407.4 424.1 404.0 432.1 401.0 C440.0 398.0 448.9 394.3 459.5 393.1 C470.2 391.9 483.7 393.0 495.9 394.0 C508.0 395.0 520.4 397.8 532.6 399.0 C544.9 400.2 557.0 400.3 569.2 401.0 C581.4 401.7 597.3 402.0 605.8 403.0 C614.3 404.0 614.4 403.7 620.5 407.0 C626.6 410.3 636.8 418.6 642.4 422.9 C648.0 427.1 647.7 426.6 654.2 432.5 C660.7 438.4 672.4 450.4 681.6 458.3 C690.7 466.2 699.9 474.6 709.0 480.2 C718.2 485.8 725.7 488.8 736.4 492.1 C747.1 495.4 760.8 498.4 773.0 500.0 C785.2 501.6 797.4 501.5 809.6 502.0 C821.8 502.5 834.0 503.0 846.2 503.0 C858.4 503.0 870.6 502.3 882.8 502.0 C895.0 501.7 907.2 502.0 919.4 501.0 C931.5 500.0 943.2 498.1 955.9 496.0 C968.5 493.9 979.7 489.8 995.4 488.1 C1011.1 486.4 1031.9 486.7 1050.1 486.0 C1068.4 485.3 1086.5 485.8 1105.0 484.0 C1123.5 482.2 1146.9 479.1 1161.3 475.0 C1175.6 470.9 1183.1 464.2 1191.1 459.5 C1199.0 454.8 1202.5 450.6 1209.0 446.5 C1215.5 442.4 1224.8 436.2 1230.0 435.1 C1235.3 434.0 1235.9 437.5 1240.6 440.0 C1245.2 442.5 1251.6 447.0 1258.1 450.0 C1264.6 453.0 1273.7 459.6 1279.5 457.9 C1285.4 456.2 1288.8 443.8 1293.1 440.0 C1297.3 436.2 1300.3 433.8 1305.1 435.1 C1309.8 436.5 1316.3 443.2 1321.6 448.1 C1326.8 453.0 1331.0 460.1 1336.6 464.4 C1342.1 468.7 1348.3 468.1 1354.8 474.0 C1361.4 479.9 1369.5 490.5 1375.9 499.6 C1382.2 508.7 1388.1 518.4 1392.9 528.5 C1397.7 538.6 1400.2 545.6 1404.6 560.0 C1409.0 574.4 1415.1 596.7 1419.4 615.0 C1423.7 633.3 1427.0 652.5 1430.4 670.0 C1433.8 687.5 1436.9 701.7 1439.6 720.0 C1442.4 738.3 1444.5 758.3 1447.0 780.0 C1449.5 801.7 1451.9 825.0 1454.4 850.0 C1456.8 875.0 1459.3 903.3 1461.8 930.0 C1464.2 956.7 1466.8 985.0 1469.1 1010.0 C1471.4 1035.0 1473.7 1060.0 1475.6 1080.0 C1477.4 1100.0 1478.6 1110.0 1480.2 1130.0 C1481.7 1150.0 1482.9 1176.7 1484.8 1200.0 C1486.6 1223.3 1489.1 1246.7 1491.2 1270.0 C1493.4 1293.3 1495.5 1316.7 1497.7 1340.0 C1499.8 1363.3 1501.8 1386.7 1504.1 1410.0 C1506.5 1433.3 1509.4 1460.0 1511.5 1480.0 C1513.7 1500.0 1514.7 1511.7 1517.1 1530.0 C1519.4 1548.3 1522.7 1571.7 1525.3 1590.0 C1528.0 1608.3 1530.0 1623.3 1532.7 1640.0 C1535.5 1656.7 1537.8 1675.0 1541.9 1690.0 C1546.1 1705.0 1552.7 1720.3 1557.6 1730.0 C1562.5 1739.7 1566.8 1743.0 1571.4 1748.0 C1576.0 1753.0 1579.1 1757.0 1585.3 1760.0 C1591.4 1763.0 1599.7 1765.0 1608.3 1766.0 C1616.9 1767.0 1628.6 1766.8 1636.9 1766.0 C1645.2 1765.2 1651.9 1762.9 1658.1 1761.0 C1664.2 1759.1 1668.2 1757.0 1673.9 1754.5 C1679.6 1752.0 1686.3 1748.3 1692.2 1745.8 C1698.1 1743.3 1704.0 1742.9 1709.3 1739.6 C1714.6 1736.3 1719.4 1729.9 1724.1 1726.0 C1728.9 1722.1 1732.8 1719.4 1737.9 1716.0 C1742.9 1712.6 1749.0 1708.8 1754.5 1705.4 C1760.0 1702.0 1765.7 1699.1 1770.9 1695.5 C1776.1 1691.9 1780.3 1687.6 1785.5 1683.6 C1790.7 1679.6 1797.2 1675.3 1802.0 1671.7 C1806.9 1668.1 1810.2 1665.0 1814.7 1661.7 C1819.3 1658.4 1822.1 1657.6 1829.4 1651.8 C1836.7 1646.0 1848.6 1635.1 1858.5 1626.9 C1868.4 1618.7 1881.9 1608.7 1888.8 1602.6 C1895.8 1596.5 1894.2 1597.4 1900.1 1590.4 C1906.0 1583.4 1916.1 1570.1 1924.1 1560.5 C1932.1 1550.9 1939.8 1542.2 1948.1 1532.7 C1956.4 1523.2 1965.2 1512.5 1973.7 1503.2 C1982.3 1494.0 1990.5 1485.9 1999.3 1477.2 C2008.1 1468.5 2019.3 1460.4 2026.5 1451.1 C2033.7 1441.8 2036.9 1432.9 2042.5 1421.6 C2048.1 1410.3 2054.6 1391.7 2060.1 1383.4 C2065.6 1375.1 2070.0 1372.9 2075.6 1372.0 C2081.2 1371.1 2087.0 1372.5 2093.7 1378.2 C2100.5 1383.9 2110.3 1396.7 2116.1 1406.0 C2122.0 1415.3 2126.8 1429.2 2128.9 1433.8" stroke="#FF0000"/><path d="M311.4 495.3 C314.5 494.5 323.9 493.5 329.7 490.3 C335.5 487.1 341.3 480.4 346.2 476.4 C351.0 472.4 355.2 470.1 358.9 466.5 C362.5 462.9 363.8 458.9 368.1 454.6 C372.4 450.3 380.0 445.3 384.5 440.7 C389.1 436.1 390.9 430.8 395.5 426.8 C400.1 422.8 406.8 420.2 412.0 416.9 C417.2 413.6 421.5 410.0 426.6 407.0 C431.8 404.0 437.0 400.8 443.0 399.0 C449.1 397.2 457.3 396.8 463.1 396.1 C468.9 395.5 470.8 394.3 477.8 395.1 C484.8 395.9 496.1 399.0 505.3 401.0 C514.4 403.0 522.0 405.7 532.6 407.0 C543.3 408.3 557.0 408.3 569.2 409.0 C581.4 409.7 596.7 409.7 605.8 411.0 C614.9 412.3 618.0 414.6 624.1 416.9 C630.2 419.2 636.6 421.8 642.4 424.8 C648.2 427.8 652.4 429.2 658.9 434.8 C665.4 440.4 673.2 450.7 681.6 458.3 C689.9 465.9 699.9 474.2 709.0 480.2 C718.2 486.1 725.7 490.4 736.4 494.0 C747.1 497.6 760.8 500.3 773.0 502.0 C785.2 503.7 797.4 503.5 809.6 504.0 C821.8 504.5 834.0 505.0 846.2 505.0 C858.4 505.0 870.6 504.3 882.8 504.0 C895.0 503.7 907.2 503.5 919.4 503.0 C931.5 502.5 943.2 502.0 955.9 501.0 C968.5 500.0 979.7 497.9 995.4 497.0 C1011.1 496.1 1031.9 496.4 1050.1 495.9 C1068.4 495.4 1086.5 495.3 1105.0 494.0 C1123.5 492.7 1145.9 491.9 1161.3 488.0 C1176.6 484.1 1188.1 477.5 1197.1 470.9 C1206.0 464.2 1210.8 453.5 1215.0 448.1 C1219.3 442.7 1218.8 442.1 1222.6 438.3 C1226.3 434.5 1232.4 428.0 1237.6 425.3 C1242.9 422.6 1248.4 422.1 1254.1 422.1 C1259.8 422.1 1265.8 424.0 1272.1 425.3 C1278.3 426.6 1286.0 427.5 1291.5 430.2 C1297.0 432.9 1301.6 437.3 1305.1 441.6 C1308.6 445.9 1308.8 450.8 1312.5 456.2 C1316.3 461.6 1321.3 468.5 1327.6 474.1 C1333.8 479.7 1342.8 485.1 1350.2 490.0 C1357.6 494.9 1366.5 499.3 1372.1 503.7 C1377.6 508.1 1379.6 511.0 1383.4 516.1 C1387.2 521.2 1391.4 528.8 1394.8 534.6 C1398.3 540.4 1401.0 543.5 1404.3 551.1 C1407.6 558.7 1411.3 567.7 1414.7 580.0 C1418.2 592.3 1421.7 608.3 1424.9 625.0 C1428.1 641.7 1431.2 662.5 1434.1 680.0 C1437.0 697.5 1439.9 711.7 1442.4 730.0 C1444.9 748.3 1446.5 768.3 1448.8 790.0 C1451.2 811.7 1453.8 835.0 1456.2 860.0 C1458.7 885.0 1461.1 913.3 1463.6 940.0 C1466.1 966.7 1468.7 995.0 1471.0 1020.0 C1473.3 1045.0 1475.6 1070.0 1477.4 1090.0 C1479.3 1110.0 1480.3 1120.0 1482.0 1140.0 C1483.7 1160.0 1485.6 1186.7 1487.6 1210.0 C1489.6 1233.3 1491.9 1256.7 1494.0 1280.0 C1496.2 1303.3 1498.3 1326.7 1500.5 1350.0 C1502.6 1373.3 1504.6 1396.7 1506.9 1420.0 C1509.2 1443.3 1512.0 1466.7 1514.3 1490.0 C1516.6 1513.3 1518.4 1536.7 1520.7 1560.0 C1523.0 1583.3 1525.3 1606.7 1528.1 1630.0 C1530.9 1653.3 1533.6 1677.5 1537.3 1700.0 C1541.0 1722.5 1546.2 1749.2 1550.2 1765.0 C1554.2 1780.8 1558.0 1788.3 1561.3 1795.0 C1564.6 1801.7 1565.8 1800.9 1569.9 1805.3 C1574.0 1809.7 1580.8 1817.7 1585.9 1821.4 C1591.0 1825.1 1595.0 1826.6 1600.7 1827.6 C1606.5 1828.6 1614.1 1828.2 1620.2 1827.6 C1626.3 1827.0 1631.2 1825.4 1637.3 1824.0 C1643.4 1822.6 1650.7 1820.9 1656.8 1819.0 C1662.9 1817.1 1668.4 1815.1 1673.9 1812.8 C1679.4 1810.5 1684.5 1807.8 1689.9 1805.3 C1695.2 1802.8 1700.4 1801.2 1705.9 1797.9 C1711.4 1794.6 1717.9 1789.0 1723.0 1785.5 C1728.2 1782.0 1732.1 1779.5 1736.8 1776.8 C1741.5 1774.1 1745.5 1772.4 1751.2 1769.4 C1756.8 1766.4 1764.5 1762.4 1770.5 1759.0 C1776.5 1755.6 1781.9 1752.2 1787.1 1749.0 C1792.3 1745.8 1796.9 1743.2 1801.8 1740.0 C1806.8 1736.8 1811.4 1733.7 1816.6 1730.0 C1821.8 1726.3 1825.9 1724.2 1833.2 1718.0 C1840.4 1711.8 1852.9 1699.3 1860.1 1692.8 C1867.3 1686.3 1870.0 1684.5 1876.1 1679.0 C1882.3 1673.5 1890.0 1667.2 1896.9 1659.9 C1903.7 1652.6 1909.8 1643.7 1917.1 1635.0 C1924.3 1626.3 1931.4 1617.6 1940.1 1607.8 C1948.7 1598.0 1959.9 1585.7 1968.9 1576.1 C1978.0 1566.5 1985.7 1558.8 1994.5 1550.1 C2003.3 1541.4 2013.7 1533.5 2021.7 1524.0 C2029.7 1514.5 2036.9 1503.2 2042.5 1492.8 C2048.1 1482.4 2052.1 1468.5 2055.3 1461.5 C2058.5 1454.5 2057.5 1454.0 2061.8 1451.1 C2066.0 1448.2 2075.1 1441.9 2080.9 1444.2 C2086.8 1446.5 2092.3 1458.3 2096.9 1465.0 C2101.4 1471.7 2104.1 1477.7 2108.1 1484.1 C2112.1 1490.5 2118.0 1497.7 2120.9 1503.2 C2123.9 1508.7 2124.9 1514.8 2125.7 1517.1" stroke="#0000FF"/><path d="M311.4 364.3 C314.5 364.8 323.6 368.3 329.7 367.3 C335.8 366.3 342.1 361.7 347.9 358.4 C353.7 355.1 358.0 351.6 364.4 347.5 C370.8 343.4 378.4 338.1 386.4 333.6 C394.3 329.1 404.7 323.9 412.0 320.7 C419.3 317.4 424.4 315.8 430.2 314.1 C436.0 312.5 440.6 311.4 446.7 310.8 C452.8 310.2 460.7 310.5 466.8 310.8 C472.9 311.1 477.2 311.9 483.3 312.7 C489.4 313.5 497.0 315.0 503.4 315.7 C509.8 316.4 515.6 316.3 521.7 316.7 C527.8 317.1 534.2 318.0 540.0 318.3 C545.8 318.6 550.3 318.8 556.4 318.7 C562.5 318.6 570.5 317.9 576.6 317.7 C582.7 317.5 586.9 316.6 593.0 317.3 C599.1 318.0 608.2 320.3 613.1 321.7 C618.0 323.1 619.6 324.5 622.3 325.6 C625.1 326.8 626.9 326.3 629.6 328.6 C632.3 330.9 634.7 335.0 638.7 339.5 C642.7 344.0 649.2 350.5 653.4 355.4 C657.5 360.3 659.5 363.8 663.6 369.0 C667.7 374.2 673.7 381.3 678.0 386.9 C682.2 392.5 684.1 395.9 688.9 402.8 C693.8 409.8 700.5 421.7 707.2 428.6 C713.9 435.5 722.7 440.1 729.1 444.4 C735.5 448.7 738.9 450.8 745.6 454.4 C752.3 458.0 760.3 463.3 769.4 466.3 C778.5 469.3 789.2 471.2 800.5 472.2 C811.7 473.2 824.9 472.8 837.1 472.2 C849.2 471.6 861.5 470.3 873.6 468.3 C885.8 466.3 898.0 463.3 910.1 460.3 C922.3 457.3 936.1 453.4 946.7 450.4 C957.4 447.4 966.1 444.7 974.2 442.5 C982.3 440.3 988.8 438.7 995.4 437.0 C1002.0 435.3 1002.9 434.2 1013.5 432.4 C1024.2 430.6 1045.5 428.2 1059.3 426.4 C1073.0 424.6 1083.7 423.3 1095.9 421.5 C1108.0 419.7 1122.1 417.6 1132.4 415.5 C1142.8 413.4 1151.0 411.4 1158.1 409.0 C1165.1 406.6 1169.6 403.9 1174.6 400.9 C1179.6 397.9 1182.9 394.6 1188.1 391.1 C1193.4 387.6 1200.6 383.2 1206.1 379.7 C1211.6 376.2 1217.1 371.9 1221.1 370.0 C1225.2 368.1 1227.4 367.2 1230.4 368.0 C1233.4 368.8 1235.5 370.9 1239.1 374.9 C1242.6 378.9 1247.4 386.3 1251.6 392.0 C1255.9 397.7 1259.9 407.5 1264.5 409.0 C1269.2 410.5 1274.8 404.7 1279.5 400.9 C1284.3 397.1 1288.3 390.0 1293.1 386.2 C1297.8 382.4 1304.2 378.6 1308.0 378.1 C1311.9 377.6 1311.9 378.9 1316.1 383.0 C1320.4 387.1 1328.4 396.5 1333.5 402.5 C1338.7 408.5 1342.3 412.1 1347.1 418.8 C1351.9 425.6 1357.1 435.0 1362.2 443.0 C1367.3 451.0 1373.4 459.7 1377.9 467.0 C1382.3 474.3 1385.1 478.2 1388.9 487.0 C1392.8 495.8 1397.1 507.8 1400.9 520.0 C1404.8 532.2 1408.1 543.3 1412.0 560.0 C1415.8 576.7 1420.3 600.0 1424.0 620.0 C1427.6 640.0 1431.2 660.0 1434.1 680.0 C1437.0 700.0 1439.0 716.3 1441.5 740.0 C1443.9 763.7 1446.2 794.5 1448.8 822.0 C1451.5 849.5 1454.5 877.0 1457.1 905.0 C1459.8 933.0 1462.2 962.5 1464.5 990.0 C1466.8 1017.5 1469.1 1048.3 1471.0 1070.0 C1472.8 1091.7 1474.2 1104.7 1475.6 1120.0 C1477.0 1135.3 1477.4 1141.3 1479.3 1162.0 C1481.1 1182.7 1484.2 1216.5 1486.6 1244.0 C1489.1 1271.5 1491.7 1301.0 1494.0 1327.0 C1496.3 1353.0 1498.2 1374.5 1500.5 1400.0 C1502.8 1425.5 1505.2 1455.8 1507.8 1480.0 C1510.4 1504.2 1513.2 1523.3 1516.1 1545.0 C1519.0 1566.7 1522.4 1587.5 1525.3 1610.0 C1528.3 1632.5 1530.4 1657.5 1533.6 1680.0 C1536.9 1702.5 1540.7 1726.7 1544.7 1745.0 C1548.7 1763.3 1553.1 1777.5 1557.6 1790.0 C1562.1 1802.5 1567.0 1812.2 1571.4 1820.0 C1575.9 1827.8 1579.7 1833.2 1584.3 1837.0 C1588.9 1840.8 1594.4 1841.5 1599.1 1843.0 C1603.7 1844.5 1606.7 1846.0 1612.2 1846.3 C1617.6 1846.6 1625.5 1845.2 1631.6 1845.0 C1637.7 1844.8 1642.9 1845.2 1648.8 1845.0 C1654.7 1844.8 1660.9 1845.0 1667.0 1843.8 C1673.1 1842.6 1679.2 1839.0 1685.3 1837.6 C1691.4 1836.1 1697.9 1836.8 1703.6 1835.1 C1709.3 1833.4 1714.1 1830.1 1719.6 1827.6 C1725.2 1825.1 1731.5 1822.3 1736.8 1820.2 C1742.0 1818.1 1743.0 1817.7 1751.2 1815.2 C1759.3 1812.7 1775.2 1809.0 1785.5 1805.0 C1795.8 1801.0 1804.0 1796.2 1813.0 1791.1 C1822.0 1786.0 1829.8 1780.7 1839.3 1774.4 C1848.7 1768.2 1859.3 1760.2 1869.7 1753.6 C1880.1 1746.9 1892.3 1742.0 1901.7 1734.5 C1911.0 1727.0 1917.2 1717.2 1925.7 1708.5 C1934.3 1699.8 1944.1 1691.1 1952.9 1682.4 C1961.7 1673.7 1971.6 1662.5 1978.5 1656.4 C1985.5 1650.3 1988.9 1649.5 1994.5 1646.0 C2000.1 1642.5 2006.5 1639.4 2012.1 1635.6 C2017.7 1631.8 2023.6 1627.8 2028.1 1623.4 C2032.6 1619.1 2035.8 1615.0 2039.3 1609.5 C2042.7 1604.0 2046.2 1596.3 2048.8 1590.4 C2051.5 1584.5 2052.9 1579.6 2055.3 1574.0 C2057.7 1568.4 2060.1 1561.0 2063.3 1557.0 C2066.5 1553.0 2070.5 1549.5 2074.5 1550.1 C2078.5 1550.7 2083.0 1555.6 2087.3 1560.5 C2091.6 1565.4 2096.4 1573.8 2100.1 1579.6 C2103.8 1585.4 2106.2 1590.3 2109.7 1595.2 C2113.1 1600.1 2117.5 1604.5 2120.9 1609.1 C2124.3 1613.7 2128.4 1620.7 2130.0 1623.0" stroke="#00FF00"/><path d="M311.4 478.0 C314.1 478.5 321.7 480.1 327.2 481.0 C332.7 481.9 338.4 483.2 344.3 483.3 C350.2 483.4 357.1 483.0 362.6 481.4 C368.1 479.8 372.1 476.5 377.2 473.5 C382.4 470.5 388.8 466.6 393.6 463.5 C398.5 460.4 401.9 458.1 406.5 454.6 C411.0 451.1 416.8 447.0 421.1 442.7 C425.4 438.4 427.5 433.4 432.1 428.8 C436.7 424.2 443.4 418.5 448.6 414.9 C453.7 411.3 458.3 409.6 463.1 407.0 C468.0 404.4 472.3 401.0 477.8 399.0 C483.3 397.0 487.0 396.4 496.1 395.1 C505.3 393.8 523.0 393.1 532.7 391.1 C542.5 389.1 548.2 385.2 554.7 383.2 C561.1 381.2 565.7 380.8 571.2 379.2 C576.6 377.6 581.8 375.3 587.6 373.3 C593.3 371.3 599.3 368.7 605.8 367.3 C612.3 365.9 620.2 364.2 626.7 365.1 C633.3 366.1 638.9 368.4 645.0 373.0 C651.1 377.6 657.2 383.6 663.3 392.9 C669.4 402.2 676.1 417.7 681.6 428.6 C687.1 439.5 690.7 448.4 696.2 458.3 C701.7 468.2 708.4 479.2 714.5 488.1 C720.6 497.0 726.1 504.0 732.8 511.9 C739.5 519.8 746.2 528.8 754.7 535.7 C763.3 542.7 773.3 549.1 784.0 553.6 C794.6 558.1 806.8 560.7 818.7 562.5 C830.6 564.3 843.1 564.8 855.3 564.5 C867.5 564.2 879.7 563.0 891.9 560.5 C904.1 558.0 916.3 554.1 928.5 549.6 C940.7 545.1 953.8 538.7 965.0 533.7 C976.1 528.7 985.8 523.6 995.4 519.8 C1005.0 516.0 1015.1 513.5 1022.7 510.8 C1030.3 508.1 1034.8 506.1 1040.9 503.8 C1047.0 501.5 1053.5 498.9 1059.3 496.9 C1065.1 494.9 1069.6 494.7 1075.7 491.9 C1081.8 489.1 1089.1 484.6 1095.9 480.0 C1102.6 475.4 1109.6 469.4 1115.9 464.1 C1122.3 458.8 1128.1 453.9 1134.2 448.3 C1140.3 442.7 1147.6 435.3 1152.5 430.4 C1157.5 425.5 1160.4 423.2 1164.1 418.8 C1167.7 414.4 1171.6 408.7 1174.6 404.1 C1177.6 399.5 1179.3 396.5 1182.0 391.1 C1184.8 385.7 1188.0 377.6 1191.1 371.6 C1194.1 365.6 1197.5 361.2 1200.1 355.3 C1202.7 349.4 1204.2 342.0 1206.5 336.0 C1208.7 330.0 1211.4 325.0 1213.5 319.5 C1215.7 314.0 1216.7 309.6 1219.4 303.0 C1222.0 296.4 1225.8 286.2 1229.3 280.0 C1232.8 273.8 1236.6 268.6 1240.3 265.7 C1243.9 262.8 1247.0 264.3 1251.2 262.7 C1255.5 261.1 1260.7 258.3 1265.9 255.8 C1271.1 253.3 1278.0 248.6 1282.3 247.9 C1286.6 247.2 1288.8 248.2 1291.5 251.8 C1294.3 255.4 1296.4 260.8 1298.8 269.7 C1301.2 278.6 1303.6 292.8 1306.1 305.4 C1308.5 318.0 1311.0 331.2 1313.5 345.1 C1315.9 359.0 1318.4 375.9 1320.7 388.7 C1323.0 401.5 1325.3 409.7 1327.2 422.0 C1329.1 434.3 1330.4 451.6 1332.2 462.5 C1333.9 473.4 1335.6 478.6 1337.8 487.2 C1340.0 495.8 1343.2 506.1 1345.4 514.0 C1347.7 521.9 1348.9 527.4 1351.2 534.6 C1353.4 541.8 1355.5 548.4 1358.7 557.3 C1361.9 566.2 1366.7 577.6 1370.1 588.2 C1373.6 598.9 1377.1 613.0 1379.6 621.2 C1382.2 629.5 1383.4 631.5 1385.3 637.7 C1387.3 643.9 1389.2 651.5 1391.1 658.4 C1393.0 665.3 1395.2 672.1 1396.8 679.0 C1398.4 685.9 1399.0 691.0 1400.6 699.6 C1402.1 708.2 1404.4 721.9 1406.3 730.5 C1408.2 739.1 1408.5 734.1 1412.0 751.1 C1415.5 768.1 1422.8 807.1 1427.2 832.8 C1431.6 858.4 1435.1 881.0 1438.5 905.0 C1442.0 929.0 1444.9 953.1 1448.0 977.1 C1451.2 1001.1 1455.0 1025.5 1457.5 1049.3 C1460.0 1073.1 1461.1 1094.9 1463.2 1120.0 C1465.3 1145.1 1467.7 1173.3 1470.0 1200.0 C1472.4 1226.7 1474.8 1253.3 1477.4 1280.0 C1480.0 1306.7 1482.8 1335.0 1485.7 1360.0 C1488.6 1385.0 1491.7 1408.3 1494.9 1430.0 C1498.2 1451.7 1501.1 1470.8 1505.1 1490.0 C1509.1 1509.2 1513.8 1523.7 1518.9 1545.0 C1524.0 1566.3 1530.6 1596.3 1535.5 1618.0 C1540.4 1639.7 1543.3 1658.0 1548.4 1675.0 C1553.5 1692.0 1560.1 1708.5 1565.9 1720.0 C1571.7 1731.5 1577.7 1737.3 1583.4 1744.0 C1589.1 1750.7 1593.5 1755.3 1600.0 1760.0 C1606.5 1764.7 1613.4 1768.0 1622.1 1772.0 C1630.8 1776.0 1645.3 1780.9 1652.2 1784.2 C1659.1 1787.5 1659.0 1789.2 1663.6 1791.7 C1668.2 1794.2 1674.1 1796.2 1679.6 1799.1 C1685.2 1802.0 1690.9 1805.5 1696.8 1809.0 C1702.7 1812.5 1709.5 1817.1 1715.0 1820.2 C1720.5 1823.3 1723.3 1824.8 1729.9 1827.6 C1736.4 1830.3 1745.2 1834.8 1754.5 1836.7 C1763.7 1838.6 1775.8 1839.4 1785.5 1838.7 C1795.3 1838.0 1803.4 1834.1 1813.0 1832.8 C1822.6 1831.5 1836.0 1831.3 1843.3 1830.8 C1850.6 1830.3 1847.9 1831.3 1856.9 1830.0 C1865.8 1828.7 1883.5 1825.4 1896.9 1823.1 C1910.2 1820.8 1924.9 1818.1 1936.9 1816.1 C1948.9 1814.1 1958.3 1812.9 1968.9 1810.9 C1979.6 1808.9 1991.6 1806.3 2000.9 1804.0 C2010.2 1801.7 2018.2 1799.6 2024.9 1797.0 C2031.6 1794.4 2034.3 1791.8 2040.9 1788.3 C2047.6 1784.8 2059.3 1779.1 2064.9 1776.2 C2070.5 1773.3 2069.1 1771.3 2074.5 1771.0 C2079.8 1770.7 2089.7 1772.1 2096.9 1774.4 C2104.1 1776.7 2112.3 1782.0 2117.7 1784.9 C2123.1 1787.8 2127.1 1790.8 2129.0 1792.0" stroke="#FFA500"/><path d="M311.4 629.8 C312.4 634.8 314.7 649.8 317.0 659.7 C319.2 669.7 322.0 678.6 325.2 689.5 C328.4 700.4 332.0 713.4 336.1 725.3 C340.3 737.2 344.5 749.2 350.0 761.1 C355.5 773.0 362.3 786.5 369.1 796.9 C376.0 807.3 382.9 815.8 391.2 823.7 C399.4 831.7 409.0 838.6 418.6 844.6 C428.2 850.6 439.8 855.0 448.9 859.5 C458.1 864.0 462.6 871.0 473.6 871.5 C484.6 872.0 502.5 868.0 514.9 862.5 C527.3 857.0 536.9 848.6 547.9 838.7 C558.9 828.8 571.8 814.8 580.9 802.9 C590.1 791.0 596.0 781.0 602.9 767.1 C609.7 753.2 616.2 732.7 622.1 719.3 C628.1 705.9 632.2 695.2 638.6 686.5 C645.0 677.8 654.7 669.6 660.6 667.1 C666.6 664.6 669.3 667.4 674.4 671.6 C679.4 675.8 684.5 683.0 690.9 692.5 C697.3 702.0 705.6 715.4 712.9 728.3 C720.2 741.2 727.5 757.1 734.8 770.0 C742.2 782.9 749.5 794.3 756.9 805.8 C764.2 817.2 771.1 829.8 778.9 838.7 C786.7 847.7 794.9 855.0 803.6 859.5 C812.3 864.0 822.4 865.6 831.1 865.5 C839.7 865.4 847.1 863.9 855.5 859.0 C863.9 854.1 872.8 844.9 881.5 836.4 C890.1 827.9 898.8 818.5 907.5 808.2 C916.1 797.9 924.8 785.7 933.5 774.4 C942.1 763.1 950.8 751.8 959.4 740.5 C968.1 729.2 976.9 717.0 985.5 706.7 C994.2 696.4 1002.9 687.9 1011.5 678.5 C1020.2 669.1 1028.8 660.2 1037.5 650.3 C1046.2 640.4 1054.8 629.6 1063.5 619.2 C1072.2 608.9 1081.7 597.6 1089.5 588.2 C1097.3 578.8 1104.1 570.2 1110.3 562.8 C1116.6 555.3 1120.2 550.0 1126.9 543.5 C1133.6 537.0 1145.0 528.5 1150.7 523.7 C1156.4 518.9 1156.9 518.4 1161.1 514.8 C1165.3 511.1 1171.1 505.3 1176.0 501.8 C1181.0 498.3 1184.0 496.0 1190.8 494.0 C1197.5 492.0 1207.7 492.7 1216.6 490.0 C1225.5 487.3 1237.0 483.7 1244.2 478.0 C1251.5 472.3 1256.1 463.5 1259.9 456.0 C1263.7 448.5 1264.8 442.3 1267.3 433.0 C1269.7 423.7 1272.4 411.8 1274.7 400.0 C1277.0 388.2 1278.8 372.3 1281.1 362.0 C1283.4 351.7 1286.2 343.8 1288.5 338.0 C1290.8 332.2 1292.6 328.0 1294.9 327.0 C1297.2 326.0 1299.1 328.2 1302.3 332.0 C1305.5 335.8 1311.1 340.3 1314.3 350.0 C1317.5 359.7 1319.7 377.7 1321.7 390.0 C1323.7 402.3 1324.7 412.3 1326.3 424.0 C1327.8 435.7 1329.6 449.0 1330.9 460.0 C1332.1 471.0 1332.4 477.7 1333.6 490.0 C1334.9 502.3 1336.7 520.7 1338.2 534.0 C1339.8 547.3 1341.3 555.7 1342.9 570.0 C1344.4 584.3 1346.0 607.0 1347.4 620.0 C1348.8 633.0 1349.9 638.2 1351.2 648.0 C1352.4 657.8 1353.3 668.7 1354.9 679.0 C1356.5 689.3 1358.9 697.9 1360.6 709.9 C1362.4 721.9 1363.8 739.2 1365.3 751.1 C1366.9 763.0 1368.4 769.3 1370.1 781.2 C1371.9 793.1 1373.9 807.0 1375.9 822.5 C1377.8 838.0 1379.4 856.8 1381.6 874.0 C1383.8 891.2 1386.6 910.1 1389.1 925.6 C1391.7 941.1 1394.2 953.1 1396.8 966.8 C1399.3 980.5 1402.1 994.2 1404.3 1008.0 C1406.5 1021.8 1408.1 1035.5 1410.0 1049.3 C1412.0 1063.0 1413.9 1078.7 1415.8 1090.5 C1417.7 1102.3 1419.1 1109.8 1421.5 1120.0 C1423.8 1130.2 1426.0 1134.2 1430.0 1151.5 C1433.9 1168.8 1440.1 1199.6 1445.2 1223.7 C1450.2 1247.8 1455.2 1273.6 1460.3 1295.9 C1465.3 1318.2 1470.4 1340.5 1475.5 1357.7 C1480.6 1374.9 1486.3 1387.0 1490.7 1399.0 C1495.1 1411.0 1498.2 1416.5 1502.1 1429.9 C1506.0 1443.3 1509.4 1463.7 1514.0 1479.2 C1518.6 1494.7 1523.9 1509.7 1529.5 1522.9 C1535.1 1536.1 1542.4 1548.7 1547.8 1558.6 C1553.3 1568.5 1557.5 1575.1 1562.4 1582.4 C1567.3 1589.7 1570.3 1596.2 1577.1 1602.2 C1583.8 1608.2 1595.4 1614.8 1602.7 1618.1 C1610.0 1621.4 1613.3 1620.6 1620.9 1622.1 C1628.5 1623.6 1637.7 1625.5 1648.4 1627.0 C1659.1 1628.5 1675.8 1631.2 1685.0 1631.0 C1694.1 1630.8 1697.7 1627.8 1703.2 1626.0 C1708.7 1624.2 1713.3 1620.4 1717.9 1620.1 C1722.5 1619.8 1725.5 1622.7 1730.7 1624.0 C1735.9 1625.3 1742.8 1626.3 1748.9 1628.0 C1755.0 1629.7 1761.2 1632.5 1767.3 1634.0 C1773.4 1635.5 1779.4 1636.1 1785.5 1636.9 C1791.6 1637.7 1797.7 1637.9 1803.8 1638.9 C1809.9 1639.9 1813.3 1641.7 1822.1 1642.9 C1831.0 1644.1 1846.3 1646.1 1856.9 1646.0 C1867.5 1645.9 1877.7 1644.0 1885.7 1642.5 C1893.7 1641.0 1897.7 1639.6 1904.9 1637.3 C1912.1 1635.0 1919.5 1632.4 1928.8 1628.6 C1938.2 1624.8 1952.9 1617.9 1960.9 1614.7 C1968.9 1611.5 1970.2 1612.4 1976.9 1609.5 C1983.5 1606.6 1994.3 1597.4 2000.9 1597.4 C2007.6 1597.4 2011.5 1606.9 2016.9 1609.5 C2022.2 1612.1 2027.6 1611.5 2032.9 1613.0 C2038.2 1614.5 2044.0 1618.5 2048.8 1618.2 C2053.7 1617.9 2056.4 1610.4 2061.8 1611.3 C2067.1 1612.2 2075.1 1619.4 2080.9 1623.4 C2086.8 1627.5 2092.1 1630.7 2096.9 1635.6 C2101.7 1640.5 2105.7 1645.4 2109.7 1652.9 C2113.7 1660.4 2117.7 1673.2 2120.9 1680.7 C2124.1 1688.2 2127.6 1695.2 2128.9 1698.1" stroke="#8B5A2B"/><path d="M310.0 993.8 C314.4 997.3 327.2 1008.7 336.1 1014.7 C345.1 1020.7 352.2 1025.6 363.7 1029.6 C375.1 1033.6 391.1 1036.3 404.9 1038.5 C418.6 1040.7 432.4 1041.5 446.2 1043.0 C459.9 1044.5 473.6 1042.8 487.4 1047.5 C501.1 1052.2 517.2 1064.9 528.7 1071.4 C540.1 1077.9 546.5 1082.3 556.1 1086.3 C565.7 1090.3 577.1 1092.4 586.4 1095.2 C595.6 1098.0 605.2 1098.2 611.7 1103.0 C618.2 1107.8 619.5 1115.4 625.4 1123.8 C631.4 1132.2 640.1 1143.2 647.4 1153.6 C654.7 1164.0 661.5 1174.4 669.3 1186.3 C677.1 1198.2 684.9 1212.6 694.0 1225.0 C703.1 1237.4 713.6 1250.3 724.1 1260.7 C734.7 1271.1 746.1 1281.0 757.1 1287.5 C768.0 1294.0 778.5 1297.9 790.0 1299.4 C801.4 1300.9 815.1 1298.9 825.6 1296.4 C836.1 1293.9 841.7 1289.0 853.1 1284.5 C864.5 1280.0 880.9 1273.6 894.2 1269.6 C907.5 1265.6 920.3 1260.7 932.6 1260.7 C945.0 1260.7 957.9 1264.8 968.3 1269.6 C978.7 1274.4 984.6 1282.4 995.2 1289.7 C1005.8 1297.0 1021.0 1307.2 1031.7 1313.5 C1042.4 1319.8 1048.5 1322.4 1059.2 1327.4 C1069.8 1332.4 1083.6 1339.2 1095.8 1343.3 C1108.0 1347.4 1120.2 1348.6 1132.4 1352.2 C1144.5 1355.8 1158.3 1359.6 1168.9 1365.1 C1179.6 1370.5 1187.8 1383.6 1196.3 1384.9 C1204.8 1386.2 1214.0 1379.0 1220.1 1373.0 C1226.2 1367.0 1228.6 1357.8 1232.9 1349.2 C1237.2 1340.6 1241.1 1327.5 1245.7 1321.4 C1250.3 1315.3 1254.9 1313.2 1260.4 1312.5 C1265.9 1311.8 1274.1 1311.4 1278.6 1317.5 C1283.2 1323.6 1285.0 1337.3 1287.7 1349.2 C1290.5 1361.1 1292.7 1378.7 1295.1 1388.9 C1297.6 1399.2 1299.4 1408.7 1302.4 1410.7 C1305.4 1412.7 1309.2 1400.1 1313.4 1400.8 C1317.5 1401.5 1322.6 1414.3 1327.2 1415.0 C1331.8 1415.7 1336.4 1410.0 1341.0 1405.0 C1345.6 1400.0 1350.6 1390.1 1354.8 1385.0 C1359.1 1379.9 1361.3 1377.4 1366.4 1374.2 C1371.4 1371.0 1379.6 1367.4 1385.3 1366.0 C1391.0 1364.6 1395.8 1364.3 1400.6 1366.0 C1405.3 1367.7 1409.4 1371.8 1413.8 1376.3 C1418.3 1380.8 1423.7 1387.3 1427.2 1392.8 C1430.7 1398.3 1432.2 1403.1 1434.7 1409.3 C1437.3 1415.5 1440.5 1423.7 1442.4 1429.9 C1444.3 1436.1 1443.7 1444.3 1446.2 1446.4 C1448.7 1448.5 1453.4 1443.7 1457.5 1442.3 C1461.6 1440.9 1465.5 1437.1 1470.9 1438.1 C1476.3 1439.1 1484.5 1444.4 1489.9 1448.5 C1495.2 1452.6 1498.4 1459.1 1503.1 1462.9 C1507.9 1466.7 1512.6 1469.4 1518.3 1471.1 C1524.0 1472.8 1532.4 1472.8 1537.3 1473.2 C1542.2 1473.6 1543.0 1474.3 1547.8 1473.3 C1552.6 1472.3 1558.5 1467.6 1566.1 1467.3 C1573.7 1467.0 1584.4 1470.3 1593.5 1471.3 C1602.7 1472.3 1612.7 1472.3 1620.9 1473.3 C1629.1 1474.3 1635.2 1478.0 1642.9 1477.2 C1650.5 1476.4 1660.2 1470.3 1666.6 1468.3 C1673.0 1466.3 1675.2 1466.1 1681.3 1465.3 C1687.4 1464.5 1697.7 1466.3 1703.2 1463.3 C1708.7 1460.3 1709.6 1451.5 1714.2 1447.5 C1718.8 1443.5 1724.9 1440.8 1730.7 1439.5 C1736.5 1438.2 1741.3 1438.8 1748.9 1439.5 C1756.6 1440.2 1767.3 1442.2 1776.4 1443.5 C1785.5 1444.8 1796.2 1445.8 1803.8 1447.5 C1811.4 1449.2 1815.5 1451.1 1822.1 1453.4 C1828.7 1455.7 1834.9 1457.6 1843.3 1461.3 C1851.8 1465.0 1863.7 1474.3 1872.9 1475.4 C1882.1 1476.5 1888.2 1470.2 1898.6 1468.0 C1909.0 1465.8 1923.2 1465.8 1935.5 1462.0 C1947.8 1458.2 1961.6 1447.8 1972.4 1445.0 C1983.1 1442.2 1990.8 1443.8 2000.0 1445.0 C2009.2 1446.2 2020.0 1449.8 2027.6 1452.0 C2035.3 1454.2 2039.9 1460.0 2046.1 1458.0 C2052.2 1456.0 2059.1 1441.3 2064.5 1440.0 C2069.9 1438.7 2073.0 1446.3 2078.3 1450.0 C2083.7 1453.7 2090.6 1458.3 2096.8 1462.0 C2102.9 1465.7 2109.8 1469.7 2115.2 1472.0 C2120.6 1474.3 2126.7 1475.3 2129.0 1476.0" stroke="#FFFF00"/></g>
</g>
<line x1="260.4" y1="57.4" x2="260.4" y2="2024.8" stroke="#000" stroke-width="2.6"/>
<line x1="259.2" y1="2023.6" x2="2391.2" y2="2023.6" stroke="#000" stroke-width="2.5"/>
<line x1="259.2" y1="58.6" x2="2391.2" y2="58.6" stroke="#6e6e6e" stroke-width="2.8"/>
<line x1="2390.4" y1="58.6" x2="2390.4" y2="2023.6" stroke="#4a4a4a" stroke-width="2.8"/>
<g stroke="#000" stroke-width="2.5"><line x1="293.8" y1="2023.6" x2="293.8" y2="2043.1"/><line x1="674.5" y1="2023.6" x2="674.5" y2="2043.1"/><line x1="1055.3" y1="2023.6" x2="1055.3" y2="2043.1"/><line x1="1436.1" y1="2023.6" x2="1436.1" y2="2043.1"/><line x1="1816.9" y1="2023.6" x2="1816.9" y2="2043.1"/><line x1="2197.8" y1="2023.6" x2="2197.8" y2="2043.1"/><line x1="238.9" y1="574.5" x2="260.4" y2="574.5"/><line x1="238.9" y1="1124.5" x2="260.4" y2="1124.5"/><line x1="238.9" y1="1674.5" x2="260.4" y2="1674.5"/></g>
<g fill="#000"><text transform="translate(293.8,2091.0) scale(1.0500,1)" font-size="64.5" font-weight="bold" text-anchor="middle">400</text><text transform="translate(674.5,2091.0) scale(1.0500,1)" font-size="64.5" font-weight="bold" text-anchor="middle">500</text><text transform="translate(1055.3,2091.0) scale(1.0500,1)" font-size="64.5" font-weight="bold" text-anchor="middle">600</text><text transform="translate(1436.1,2091.0) scale(1.0500,1)" font-size="64.5" font-weight="bold" text-anchor="middle">700</text><text transform="translate(1816.9,2091.0) scale(1.0500,1)" font-size="64.5" font-weight="bold" text-anchor="middle">800</text><text transform="translate(2197.8,2091.0) scale(1.0500,1)" font-size="64.5" font-weight="bold" text-anchor="middle">900</text><text transform="translate(1313.5,2175.8) scale(1.0860,1)" font-size="63.8" font-weight="bold" text-anchor="middle">Wavelength (nm)</text><text transform="translate(211.3,574.5) rotate(-90) scale(1,1.1500)" font-size="62.5" font-weight="bold" text-anchor="middle">0.5</text><text transform="translate(211.3,1124.5) rotate(-90) scale(1,1.1500)" font-size="62.5" font-weight="bold" text-anchor="middle">0.0</text><text transform="translate(211.3,1674.5) rotate(-90) scale(1,1.1500)" font-size="62.5" font-weight="bold" text-anchor="middle">-0.5</text><text transform="translate(100.5,1050.0) rotate(-90) scale(1,1.1000)" font-size="63.4" font-weight="bold" text-anchor="middle">Pearson's correlation coefficient (R)</text><text transform="translate(1826.3,208.2) scale(1.0914,1)" font-size="62.8" font-weight="normal" text-anchor="start">Pixel size (level 3)</text><rect x="1958.3" y="268.2" width="31.0" height="27.4" fill="#000000"/><text transform="translate(2035.3,305.8) scale(1.0580,1)" font-size="65.0" font-weight="bold" text-anchor="start">1 mm</text><rect x="1958.3" y="344.3" width="31.0" height="27.4" fill="#FF0000"/><text transform="translate(2035.3,381.9) scale(1.0580,1)" font-size="65.0" font-weight="bold" text-anchor="start">2.5 mm</text><rect x="1958.3" y="418.9" width="31.0" height="27.4" fill="#0000FF"/><text transform="translate(2035.3,456.5) scale(1.0580,1)" font-size="65.0" font-weight="bold" text-anchor="start">5 mm</text><rect x="1958.3" y="493.3" width="31.0" height="27.4" fill="#00FF00"/><text transform="translate(2035.3,530.9) scale(1.0580,1)" font-size="65.0" font-weight="bold" text-anchor="start">1 cm</text><rect x="1958.3" y="569.3" width="31.0" height="27.4" fill="#FFA500"/><text transform="translate(2035.3,606.9) scale(1.0580,1)" font-size="65.0" font-weight="bold" text-anchor="start">2.5 cm</text><rect x="1958.3" y="644.5" width="31.0" height="27.4" fill="#8B5A2B"/><text transform="translate(2035.3,682.1) scale(1.0580,1)" font-size="65.0" font-weight="bold" text-anchor="start">5 cm</text><rect x="1958.3" y="718.8" width="31.0" height="27.4" fill="#FFFF00"/><text transform="translate(2035.3,756.4) scale(1.0580,1)" font-size="65.0" font-weight="bold" text-anchor="start">8.3 cm</text><line x1="1954.3" y1="812.5" x2="2076" y2="812.5" stroke="#000" stroke-width="6" stroke-linecap="round"/><line x1="1954.3" y1="888.9" x2="2076" y2="888.9" stroke="#000" stroke-width="7.2" stroke-linecap="round" stroke-dasharray="28.8 30.2"/><text transform="translate(2137.0,836.4) scale(1.0580,1)" font-size="65.0" font-weight="bold" text-anchor="start">CV</text><text transform="translate(2137.0,912.8) scale(1.0580,1)" font-size="65.0" font-weight="bold" text-anchor="start">SD</text><rect x="377.4" y="1846.8" width="31.3" height="26.8" fill="#00FF00"/><rect x="377.4" y="1921.4" width="31.3" height="26.8" fill="#FFA500"/><text transform="translate(453.5,1878.4) scale(1.0795,1)" font-size="64.0" font-weight="bold" text-anchor="start">R = 0.73, <tspan font-style="italic">p</tspan> = 0.03 (CV) at 452 nm</text><text transform="translate(453.5,1953.0) scale(1.0795,1)" font-size="64.0" font-weight="bold" text-anchor="start">R = 0.79, <tspan font-style="italic">p</tspan> = 0.01 (SD) at 688 nm</text></g>
</svg></body></html>
